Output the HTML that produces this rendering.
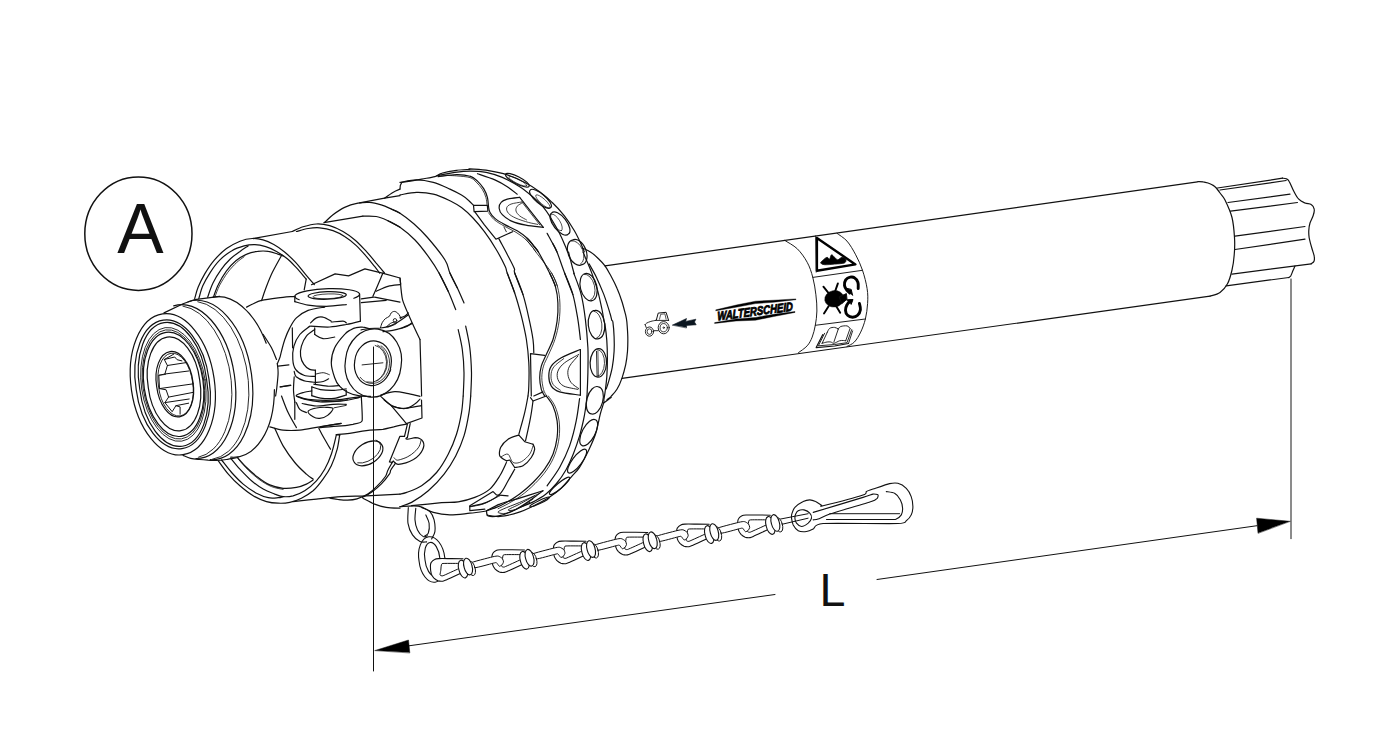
<!DOCTYPE html>
<html lang="en">
<head>
<meta charset="utf-8">
<title>Walterscheid PTO drive shaft - dimension L</title>
<style>
html,body{margin:0;padding:0;background:#fff;}
body{width:1398px;height:740px;overflow:hidden;}
svg{display:block;}
text{font-family:"Liberation Sans",sans-serif;fill:#111;}
</style>
</head>
<body>
<svg width="1398" height="740" viewBox="0 0 1398 740" fill="none" stroke-linecap="round" stroke-linejoin="round">
<rect x="0" y="0" width="1398" height="740" fill="#fff" stroke="none"/>
<path d="M192.0 233.7 A53.6 56.7 0.0 1 1 84.8 233.7 A53.6 56.7 0.0 1 1 192.0 233.7 Z" stroke="#111" stroke-width="1.5" fill="none"/>
<text x="140.4" y="252.7" font-size="69.5" text-anchor="middle" stroke="none">A</text>
<text x="819.6" y="605.7" font-size="46.6" stroke="none">L</text>
<path d="M373.5 347.0 L373.5 671.0" stroke="#111" stroke-width="1" fill="none"/>
<path d="M1291.0 279.0 L1291.0 538.7" stroke="#181818" stroke-width="1" fill="none"/>
<path d="M409.0 645.8 L775.0 594.5" stroke="#111" stroke-width="1.0" fill="none"/>
<path d="M877.0 579.5 L1257.0 525.7" stroke="#111" stroke-width="1.0" fill="none"/>
<path d="M375.0 650.5 L408.5 640.0 L409.8 652.6Z" stroke="#111" stroke-width="0.5" fill="#000"/>
<path d="M1290.0 521.3 L1256.6 518.2 L1258.0 533.0Z" stroke="#111" stroke-width="0.5" fill="#000"/>
<path d="M605.0 265.9 L1197.5 181.8" stroke="#111" stroke-width="1.2" fill="none"/>
<path d="M622.0 378.3 L1210.0 296.2" stroke="#111" stroke-width="1.2" fill="none"/>
<path d="M1197.8 181.6 C1198.7 181.6 1201.5 181.5 1203.2 181.8 C1205.0 182.0 1206.5 182.5 1208.0 183.0 C1209.5 183.5 1211.2 184.2 1212.5 185.0 C1213.8 185.8 1214.5 186.2 1215.8 187.5 C1217.0 188.8 1218.5 190.9 1220.0 193.0 C1221.5 195.1 1223.0 195.9 1225.0 200.0 C1227.0 204.1 1230.4 211.2 1232.0 217.5 C1233.6 223.8 1234.1 231.2 1234.5 237.5 C1234.9 243.8 1234.7 249.6 1234.2 255.0 C1233.8 260.4 1233.1 265.2 1232.0 270.0 C1230.9 274.8 1229.5 280.0 1227.5 283.8 C1225.5 287.5 1222.9 290.4 1220.0 292.5 C1217.1 294.6 1211.7 295.6 1210.0 296.2" stroke="#111" stroke-width="1.2" fill="none"/>
<path d="M1217.5 188.0 L1282.5 178.2" stroke="#111" stroke-width="1.2" fill="none"/>
<path d="M1282.5 178.2 C1283.1 178.3 1285.1 178.2 1286.2 178.8 C1287.4 179.3 1288.0 179.4 1289.2 181.5 C1290.5 183.6 1292.2 188.3 1293.8 191.2 C1295.3 194.2 1296.9 197.3 1298.8 199.2 C1300.6 201.2 1302.9 202.1 1305.0 203.0 C1307.1 203.9 1309.7 203.5 1311.2 204.5 C1312.8 205.5 1313.9 207.4 1314.2 209.2 C1314.6 211.1 1314.0 213.2 1313.2 215.5 C1312.5 217.8 1310.8 220.5 1310.0 223.0 C1309.2 225.5 1308.9 228.0 1308.8 230.5 C1308.6 233.0 1308.8 235.1 1309.2 238.0 C1309.8 240.9 1310.9 245.0 1311.8 248.0 C1312.6 251.0 1313.9 254.0 1314.2 256.2 C1314.6 258.5 1314.5 260.0 1314.0 261.2 C1313.5 262.5 1311.7 263.3 1311.2 263.8" stroke="#111" stroke-width="1.2" fill="none"/>
<path d="M1311.2 263.8 L1232.0 274.2" stroke="#111" stroke-width="1.2" fill="none"/>
<path d="M1220.0 190.0 L1286.2 180.5" stroke="#111" stroke-width="1.2" fill="none"/>
<path d="M1228.0 202.5 L1290.0 194.2" stroke="#111" stroke-width="1.2" fill="none"/>
<path d="M1230.5 211.2 L1297.5 202.5" stroke="#111" stroke-width="1.2" fill="none"/>
<path d="M1235.0 236.2 L1305.0 226.5" stroke="#111" stroke-width="1.2" fill="none"/>
<path d="M1235.0 249.5 L1305.0 239.2" stroke="#111" stroke-width="1.2" fill="none"/>
<path d="M1226.2 285.8 L1288.8 277.5" stroke="#111" stroke-width="1.2" fill="none"/>
<path d="M1288.8 277.5 C1289.1 277.2 1290.0 276.9 1290.8 275.8 C1291.5 274.6 1292.3 272.1 1293.0 270.5 C1293.7 268.9 1294.7 266.8 1295.0 266.0" stroke="#111" stroke-width="1.2" fill="none"/>
<path d="M784.9 240.5 C786.9 241.9 793.6 245.2 797.3 248.8 C801.0 252.5 804.6 257.5 807.2 262.3 C809.8 267.0 811.4 272.0 812.8 277.4 C814.3 282.8 815.2 289.2 815.9 294.8 C816.6 300.4 817.0 305.9 816.9 311.0 C816.8 316.0 816.1 320.9 815.3 325.3 C814.5 329.6 813.5 333.6 812.2 337.1 C810.8 340.5 809.5 343.2 807.2 345.8 C804.9 348.4 800.0 351.5 798.5 352.6" stroke="#111" stroke-width="0.95" fill="none"/>
<path d="M837.1 233.4 C838.7 234.7 843.9 237.6 847.0 241.1 C850.1 244.7 853.1 249.9 855.7 254.8 C858.3 259.7 860.6 264.7 862.5 270.3 C864.4 276.0 866.3 283.1 867.1 288.6 C868.0 294.1 867.9 298.4 867.6 303.5 C867.3 308.6 866.5 314.3 865.4 319.0 C864.2 323.8 862.5 328.3 860.7 332.1 C858.8 335.9 856.7 339.7 854.4 342.0 C852.2 344.4 848.2 345.7 847.0 346.4" stroke="#111" stroke-width="0.95" fill="none"/>
<path d="M812.8 277.4 L862.5 270.3" stroke="#111" stroke-width="0.95" fill="none"/>
<path d="M815.3 325.3 L865.4 319.0" stroke="#111" stroke-width="0.95" fill="none"/>
<path d="M816.9 238.0 L855.4 264.4 L816.9 270.7Z" stroke="#000" stroke-width="2.4" fill="none"/>
<path d="M815.6 235.9 L816.2 272.2" stroke="#111" stroke-width="0.8" fill="none"/>
<path d="M820.9 262.9 C820.7 262.0 822.3 260.7 823.4 259.8 C824.4 258.8 826.1 257.4 827.1 257.3 C828.1 257.2 828.9 259.6 829.6 259.1 C830.3 258.7 830.6 255.1 831.5 254.8 C832.3 254.5 833.5 256.5 834.6 257.3 C835.6 258.1 836.4 259.8 837.7 259.8 C838.9 259.8 840.7 257.4 842.0 257.3 C843.4 257.2 845.3 258.2 845.7 259.1 C846.2 260.1 846.4 262.0 844.5 262.9 C842.6 263.7 837.9 263.8 834.6 264.1 C831.3 264.4 826.9 264.9 824.6 264.7 C822.3 264.5 821.1 263.7 820.9 262.9Z" stroke="#111" stroke-width="0.8" fill="#000"/>
<path d="M843.9 297.1 A9.7 8.2 -10.0 1 1 824.8 300.5 A9.7 8.2 -10.0 1 1 843.9 297.1 Z" stroke="#111" stroke-width="0.5" fill="#000"/>
<path d="M839.5 296.7 L846.4 293.6 L847.0 299.2 L842.0 303.5Z" stroke="#111" stroke-width="1.0" fill="#000"/>
<path d="M823.4 286.7 L828.4 292.9" stroke="#000" stroke-width="1.9" fill="none"/>
<path d="M837.9 283.4 L835.2 291.1" stroke="#000" stroke-width="1.9" fill="none"/>
<path d="M824.0 313.5 L828.6 306.2" stroke="#000" stroke-width="1.9" fill="none"/>
<path d="M840.2 312.8 L836.1 306.0" stroke="#000" stroke-width="1.9" fill="none"/>
<path d="M858.2 288.6 C858.1 287.6 858.6 284.2 857.9 282.4 C857.3 280.6 855.8 278.5 854.4 277.7 C853.1 276.8 851.5 276.8 850.1 277.2 C848.6 277.5 846.7 278.5 845.7 279.9 C844.8 281.3 844.3 283.7 844.5 285.5 C844.7 287.3 846.1 289.2 847.0 290.5 C847.9 291.7 849.3 292.5 849.7 292.9" stroke="#000" stroke-width="2.9" fill="none"/>
<path d="M847.0 288.6 L852.6 295.4 L851.3 289.8Z" stroke="#000" stroke-width="1.0" fill="#000"/>
<path d="M859.4 303.5 C859.6 304.5 860.7 307.8 860.4 309.7 C860.1 311.7 858.9 314.1 857.6 315.3 C856.3 316.6 854.2 317.2 852.6 317.2 C850.9 317.2 848.8 316.5 847.6 315.3 C846.4 314.2 845.6 312.1 845.5 310.3 C845.4 308.6 846.2 306.3 847.0 304.8 C847.8 303.2 849.6 301.6 850.1 301.0" stroke="#000" stroke-width="2.9" fill="none"/>
<path d="M847.0 299.8 L853.0 299.5 L851.3 304.1Z" stroke="#000" stroke-width="1.0" fill="#000"/>
<path d="M827.1 332.7 C827.5 332.0 828.4 329.3 829.6 328.4 C830.8 327.5 833.1 327.3 834.6 327.4 C836.0 327.5 837.7 328.7 838.3 329.0" stroke="#111" stroke-width="0.9" fill="none"/>
<path d="M838.3 329.0 C838.7 328.6 839.3 327.0 840.8 326.5 C842.2 326.0 845.4 325.6 847.0 325.9 C848.5 326.2 849.6 328.0 850.1 328.4" stroke="#111" stroke-width="0.9" fill="none"/>
<path d="M827.1 332.7 L822.1 343.3" stroke="#111" stroke-width="0.9" fill="none"/>
<path d="M838.3 329.0 L833.9 342.0" stroke="#111" stroke-width="0.9" fill="none"/>
<path d="M850.1 328.4 L845.7 340.8" stroke="#111" stroke-width="0.9" fill="none"/>
<path d="M822.1 343.3 C823.0 343.1 825.7 342.2 827.1 342.0 C828.6 341.8 829.7 341.8 830.8 342.0 C832.0 342.2 832.5 343.5 833.9 343.3 C835.4 343.1 838.0 341.3 839.5 340.8 C841.1 340.3 842.2 340.5 843.3 340.5 C844.3 340.5 845.3 340.8 845.7 340.8" stroke="#111" stroke-width="0.9" fill="none"/>
<path d="M824.6 333.3 L818.4 345.8 L834.6 344.5 L847.0 342.7 L851.7 329.6" stroke="#111" stroke-width="0.9" fill="none"/>
<path d="M822.8 334.6 L816.2 347.6 L834.6 346.0 L848.5 343.5" stroke="#111" stroke-width="1.2" fill="none"/>
<path d="M848.5 343.5 L852.6 330.9" stroke="#111" stroke-width="0.9" fill="none"/>
<path d="M669.2 327.7 A5.5 6.1 0.0 1 1 658.2 327.7 A5.5 6.1 0.0 1 1 669.2 327.7 Z" stroke="#111" stroke-width="0.9" fill="none"/>
<path d="M667.4 327.7 A3.6 4.1 0.0 1 1 660.1 327.7 A3.6 4.1 0.0 1 1 667.4 327.7 Z" stroke="#111" stroke-width="0.8" fill="none"/>
<path d="M664.4 327.7 A0.7 0.7 0.0 1 1 663.0 327.7 A0.7 0.7 0.0 1 1 664.4 327.7 Z" stroke="#111" stroke-width="0.8" fill="none"/>
<path d="M653.6 331.6 A4.1 4.6 0.0 1 1 645.4 331.6 A4.1 4.6 0.0 1 1 653.6 331.6 Z" stroke="#111" stroke-width="0.9" fill="none"/>
<path d="M651.9 331.6 A2.4 2.8 0.0 1 1 647.1 331.6 A2.4 2.8 0.0 1 1 651.9 331.6 Z" stroke="#111" stroke-width="0.8" fill="none"/>
<path d="M656.4 319.8 L658.2 313.1 L666.1 312.3 L668.6 320.4" stroke="#111" stroke-width="1.0" fill="none"/>
<path d="M659.5 319.2 L660.7 314.3 L664.9 313.8 L666.1 319.2" stroke="#111" stroke-width="0.7" fill="none"/>
<path d="M655.6 320.4 C654.8 320.6 652.4 320.9 650.9 321.4 C649.5 321.8 647.7 322.5 646.7 323.1 C645.7 323.6 645.4 324.4 645.1 324.7" stroke="#111" stroke-width="0.9" fill="none"/>
<path d="M645.1 324.7 L646.3 327.7" stroke="#111" stroke-width="0.9" fill="none"/>
<path d="M655.6 320.4 L668.6 320.4" stroke="#111" stroke-width="0.9" fill="none"/>
<path d="M654.0 330.7 L658.2 330.7" stroke="#111" stroke-width="0.9" fill="none"/>
<path d="M672.6 325.0 L686.5 318.5 L685.7 321.4 L695.9 319.2 L694.5 322.0 L696.2 324.8 L686.7 325.4 L686.5 327.6Z" stroke="#0b1620" stroke-width="0.6" fill="#0b1620"/>
<path d="M716.0 309.8 L737.3 304.8 L755.5 301.2 L773.8 300.2 L795.9 298.9 L795.9 299.7 L773.8 302.2 L755.5 303.6 L737.3 307.0 L716.0 310.7Z" stroke="#000" stroke-width="0.4" fill="#000"/>
<path d="M714.8 322.6 L736.1 318.9 L755.5 317.4 L773.8 314.3 L795.0 311.5 L795.0 312.4 L773.8 316.5 L755.5 320.2 L736.1 321.0 L714.8 323.4Z" stroke="#000" stroke-width="0.4" fill="#000"/>
<text transform="translate(717.4,320.6) rotate(-7.6) skewX(-6) scale(0.79,1)" font-size="12.2" font-weight="bold" font-style="italic" stroke="#000" stroke-width="0.8" stroke-linejoin="miter" style="fill:#000">WALTERSCHEID</text>
<path d="M401.7 182.4 C405.0 181.9 416.1 180.1 421.6 179.1 C427.2 178.1 431.6 177.6 434.9 176.6 C438.2 175.6 438.0 174.3 441.6 173.3 C445.2 172.2 451.8 170.9 456.5 170.3 C461.2 169.6 467.6 169.5 469.8 169.3 C472.1 169.1 466.9 168.7 470.0 168.9 C473.1 169.2 482.4 169.6 488.6 170.6 C494.9 171.6 501.1 172.8 507.3 174.9 C513.5 177.0 520.5 180.2 525.9 183.0 C531.3 185.8 535.2 188.5 539.6 191.7 C543.9 194.9 547.9 198.2 552.0 202.3 C556.2 206.3 560.7 211.2 564.4 215.9 C568.2 220.7 571.5 225.9 574.4 230.8 C577.3 235.8 580.2 242.2 581.8 245.7 C583.5 249.3 583.9 250.9 584.3 252.0" stroke="#111" stroke-width="1.2" fill="none"/>
<path d="M436.6 175.8 C439.6 175.2 449.3 173.2 454.9 172.4 C460.4 171.7 464.8 171.2 470.0 171.2 C475.2 171.2 480.8 171.4 486.2 172.4 C491.5 173.5 496.7 175.0 502.3 177.4 C507.9 179.8 514.7 183.6 519.7 186.7 C524.7 189.9 528.2 192.9 532.1 196.3 C536.1 199.7 540.1 203.4 543.3 207.2 C546.5 211.0 548.7 214.7 551.4 219.0 C554.1 223.4 557.1 228.7 559.5 233.3 C561.9 238.0 564.3 243.9 565.7 247.0 C567.0 250.1 567.2 251.1 567.6 252.0" stroke="#111" stroke-width="1.2" fill="none"/>
<path d="M477.5 173.7 C480.4 174.7 489.9 177.7 494.9 179.9 C499.8 182.1 503.6 184.3 507.3 186.7 C511.0 189.1 515.6 192.9 517.2 194.2" stroke="#111" stroke-width="1.2" fill="none"/>
<path d="M547.1 233.3 C548.0 235.0 551.0 240.2 552.6 243.3 C554.3 246.4 556.3 250.5 557.0 252.0" stroke="#111" stroke-width="1.2" fill="none"/>
<path d="M438.2 176.6 C441.3 176.3 451.2 174.7 456.5 174.6 C461.8 174.5 466.5 175.1 470.0 176.2 C473.5 177.2 475.2 179.1 477.5 181.1 C479.7 183.2 482.0 185.9 483.7 188.6 C485.3 191.3 486.6 194.2 487.4 197.3 C488.2 200.4 488.2 204.7 488.6 207.2 C489.1 209.7 488.8 210.3 489.9 212.2 C490.9 214.1 492.4 216.3 494.9 218.4 C497.3 220.5 501.1 222.6 504.8 224.6 C508.5 226.7 513.5 228.6 517.2 230.8 C521.0 233.1 524.3 235.6 527.2 238.3 C530.1 241.0 532.8 244.7 534.6 247.0 C536.5 249.3 537.7 251.1 538.4 252.0" stroke="#111" stroke-width="1.2" fill="none"/>
<path d="M441.6 175.3 C444.1 175.4 451.8 175.5 456.5 175.9 C461.3 176.3 466.7 176.6 470.0 177.6 C473.3 178.7 474.2 180.2 476.2 182.1 C478.2 184.0 480.6 186.7 482.2 189.2 C483.8 191.7 485.1 194.6 485.9 197.3 C486.7 200.0 486.9 204.0 487.1 205.4" stroke="#111" stroke-width="0.8" fill="none"/>
<path d="M488.6 212.8 C489.6 214.0 491.6 217.4 494.2 219.7 C496.8 221.9 500.6 224.0 504.2 226.1 C507.8 228.2 512.4 230.1 516.0 232.3 C519.6 234.6 523.1 237.0 525.9 239.5 C528.7 242.1 531.1 245.5 532.8 247.6 C534.4 249.7 535.3 251.2 535.9 252.0" stroke="#111" stroke-width="0.8" fill="none"/>
<path d="M400.0 182.4 C402.8 182.0 411.1 179.9 416.6 179.9 C422.2 179.9 427.7 180.9 433.3 182.4 C438.8 183.9 445.2 187.0 449.9 189.1 C454.6 191.2 458.4 193.2 461.5 195.0 C464.6 196.8 466.4 198.4 468.4 200.2 C470.4 201.9 472.7 204.5 473.5 205.3" stroke="#111" stroke-width="1.2" fill="none"/>
<path d="M473.5 205.3 L487.3 205.3 L487.9 211.1 L474.1 211.6Z" stroke="#111" stroke-width="1.2" fill="none"/>
<path d="M474.7 211.6 L484.4 224.9 L495.9 239.2 L512.6 231.7" stroke="#111" stroke-width="1.2" fill="none"/>
<path d="M498.8 238.6 C500.2 241.3 504.8 249.7 507.4 254.7 C510.0 259.7 513.1 265.4 514.3 268.5 C515.5 271.5 513.3 268.6 514.7 273.0 C516.2 277.4 521.6 291.0 523.0 294.6" stroke="#111" stroke-width="1.2" fill="none"/>
<path d="M504.0 227.1 L506.3 231.7" stroke="#111" stroke-width="0.9" fill="none"/>
<path d="M400.0 194.9 C402.8 194.5 411.1 192.5 416.6 192.4 C422.2 192.3 427.7 192.7 433.3 194.1 C438.8 195.4 445.3 198.5 450.0 200.7 C454.7 203.0 457.7 204.8 461.5 207.6 C465.3 210.5 469.1 213.9 473.0 218.0 C476.8 222.0 480.6 226.6 484.4 231.7 C488.3 236.9 492.5 243.2 495.9 249.0 C499.4 254.7 503.2 262.2 505.1 266.2 C507.0 270.2 505.6 268.5 507.2 273.0 C508.8 277.5 513.5 289.6 514.7 293.0" stroke="#111" stroke-width="1.2" fill="none"/>
<path d="M543.3 227.4 C540.4 227.0 531.3 226.3 525.9 225.2 C520.5 224.2 514.9 222.7 511.0 220.9 C507.1 219.1 504.3 216.8 502.3 214.7 C500.3 212.6 499.4 210.5 499.2 208.5 C499.0 206.4 499.7 203.8 501.1 202.3 C502.4 200.7 504.2 200.0 507.3 199.1 C510.4 198.3 517.6 197.6 519.7 197.3" stroke="#111" stroke-width="1.2" fill="none"/>
<path d="M519.7 197.3 L543.3 227.4" stroke="#111" stroke-width="1.2" fill="none"/>
<path d="M521.9 202.0 L539.8 224.9" stroke="#111" stroke-width="0.8" fill="none"/>
<path d="M537.7 224.4 C536.2 224.0 532.0 223.4 528.4 222.4 C524.8 221.4 519.3 219.7 516.0 218.2 C512.7 216.7 510.1 215.2 508.5 213.4 C507.0 211.7 506.2 209.4 506.7 207.8 C507.1 206.3 508.5 205.1 511.0 204.1 C513.5 203.1 519.8 202.4 521.6 202.0" stroke="#111" stroke-width="0.8" fill="none"/>
<path d="M522.2 202.9 C521.4 203.4 518.3 204.9 517.2 206.2 C516.2 207.6 515.6 209.3 516.0 211.0 C516.4 212.6 517.9 214.4 519.7 215.9 C521.5 217.4 525.4 219.2 526.5 219.9" stroke="#111" stroke-width="0.8" fill="none"/>
<path d="M529.1 186.2 A13.2 3.6 27.0 1 1 505.5 174.2 A13.2 3.6 27.0 1 1 529.1 186.2 Z" stroke="#111" stroke-width="1.2" fill="none"/>
<path d="M526.7 185.8 A10.0 2.0 27.0 1 1 508.9 176.8 A10.0 2.0 27.0 1 1 526.7 185.8 Z" stroke="#111" stroke-width="0.7" fill="none"/>
<path d="M550.8 207.5 A13.5 4.6 40.0 1 1 530.2 190.1 A13.5 4.6 40.0 1 1 550.8 207.5 Z" stroke="#111" stroke-width="1.2" fill="none"/>
<path d="M550.1 207.9 A9.5 2.6 42.0 1 1 535.9 195.1 A9.5 2.6 42.0 1 1 550.1 207.9 Z" stroke="#111" stroke-width="0.7" fill="none"/>
<path d="M568.3 234.1 A13.5 6.2 52.0 1 1 551.7 212.9 A13.5 6.2 52.0 1 1 568.3 234.1 Z" stroke="#111" stroke-width="1.2" fill="none"/>
<path d="M561.5 230.6 A9.5 3.6 58.0 1 1 551.5 214.4 A9.5 3.6 58.0 1 1 561.5 230.6 Z" stroke="#111" stroke-width="0.7" fill="none"/>
<path d="M253.2 238.6 L292.3 231.5" stroke="#111" stroke-width="1.2" fill="none"/>
<path d="M323.9 222.7 L362.9 216.2" stroke="#111" stroke-width="1.2" fill="none"/>
<path d="M362.9 216.2 C365.1 216.2 372.1 215.8 376.2 216.5 C380.4 217.2 383.9 218.9 387.9 220.7 C391.8 222.5 398.0 226.2 400.0 227.3" stroke="#111" stroke-width="1.2" fill="none"/>
<path d="M324.7 222.3 C326.1 221.1 329.7 217.3 333.0 214.8 C336.3 212.3 340.5 209.3 344.6 207.4 C348.8 205.4 353.8 204.0 357.9 203.2 C362.1 202.4 365.7 202.1 369.6 202.4 C373.5 202.6 377.6 203.8 381.2 204.9 C384.8 206.0 388.1 207.6 391.2 209.0 C394.3 210.4 398.5 212.5 400.0 213.2" stroke="#111" stroke-width="1.2" fill="none"/>
<path d="M359.6 202.9 L384.5 198.2 L400.0 195.7" stroke="#111" stroke-width="1.2" fill="none"/>
<path d="M384.5 198.2 C385.9 197.2 390.3 193.9 392.9 192.4 C395.4 190.9 398.8 189.6 400.0 189.1" stroke="#111" stroke-width="1.2" fill="none"/>
<path d="M292.3 231.5 C294.1 230.7 299.1 228.1 303.1 226.8 C307.1 225.6 311.9 224.2 316.4 224.0 C320.8 223.8 325.2 224.4 329.7 225.6 C334.1 226.9 338.8 229.1 343.0 231.5 C347.1 233.8 350.7 236.5 354.6 239.8 C358.5 243.1 362.6 247.5 366.3 251.4 C369.9 255.3 373.2 259.4 376.2 263.1 C379.3 266.7 383.2 271.4 384.5 273.0" stroke="#111" stroke-width="1.2" fill="none"/>
<path d="M296.4 231.5 C298.4 231.0 304.2 229.1 308.1 228.5 C311.9 227.9 315.5 227.4 319.7 227.8 C323.9 228.2 328.8 229.2 333.0 230.6 C337.2 232.1 340.8 234.0 344.6 236.5 C348.5 238.9 352.7 242.3 356.3 245.6 C359.9 248.9 363.2 252.9 366.3 256.4 C369.3 259.9 372.3 263.6 374.6 266.4 C376.8 269.1 378.7 271.9 379.6 273.0" stroke="#111" stroke-width="1.2" fill="none"/>
<path d="M214.1 378.3 A41.7 71.1 -8.3 1 1 131.5 390.3 A41.7 71.1 -8.3 1 1 214.1 378.3 Z" stroke="#111" stroke-width="1.2" fill="none"/>
<path d="M209.0 379.1 A36.8 63.0 -8.3 1 1 136.2 389.7 A36.8 63.0 -8.3 1 1 209.0 379.1 Z" stroke="#111" stroke-width="1.2" fill="none"/>
<path d="M206.6 379.5 A33.8 59.5 -8.3 1 1 139.8 389.3 A33.8 59.5 -8.3 1 1 206.6 379.5 Z" stroke="#111" stroke-width="1.2" fill="none"/>
<path d="M205.1 379.8 A32.0 57.3 -8.3 1 1 141.7 389.0 A32.0 57.3 -8.3 1 1 205.1 379.8 Z" stroke="#111" stroke-width="0.9" fill="none"/>
<path d="M203.8 380.0 A30.6 55.0 -8.3 1 1 143.2 388.8 A30.6 55.0 -8.3 1 1 203.8 380.0 Z" stroke="#111" stroke-width="0.9" fill="none"/>
<path d="M202.9 380.0 A29.6 52.5 -8.3 1 1 144.3 388.6 A29.6 52.5 -8.3 1 1 202.9 380.0 Z" stroke="#111" stroke-width="1.2" fill="none"/>
<path d="M199.7 380.1 A26.0 45.5 -8.3 1 1 148.3 387.7 A26.0 45.5 -8.3 1 1 199.7 380.1 Z" stroke="#111" stroke-width="1.2" fill="none"/>
<path d="M192.9 381.6 A18.3 31.7 -8.3 1 1 156.7 386.8 A18.3 31.7 -8.3 1 1 192.9 381.6 Z" stroke="#111" stroke-width="1.2" fill="none"/>
<path d="M173.7 305.9 A45.5 77.5 -8.3 1 1 195.9 458.5" stroke="#111" stroke-width="1.2" fill="none"/>
<path d="M182.9 306.1 A45.0 76.5 -8.3 0 1 198.6 457.2" stroke="#111" stroke-width="0.9" fill="none"/>
<path d="M188.1 301.7 A47.3 80.3 -8.3 1 1 210.3 459.7" stroke="#111" stroke-width="1.2" fill="none"/>
<path d="M197.8 301.7 A47.0 79.6 -8.3 0 1 212.5 459.2" stroke="#111" stroke-width="0.9" fill="none"/>
<path d="M211.7 297.5 A47.7 80.8 -8.3 0 1 266.2 343.2" stroke="#111" stroke-width="1.2" fill="none"/>
<path d="M274.4 389.7 A47.7 80.8 -8.3 0 1 230.8 457.1" stroke="#111" stroke-width="1.2" fill="none"/>
<path d="M164.0 312.9 L183.1 303.8 L194.8 299.6 L219.7 296.3" stroke="#111" stroke-width="1.2" fill="none"/>
<path d="M183.1 455.4 C184.4 455.9 187.8 457.7 190.6 458.3 C193.4 459.0 196.8 459.2 199.8 459.5 C202.7 459.8 205.3 460.0 208.1 460.2 C210.8 460.3 213.3 460.6 216.4 460.5 C219.4 460.4 222.7 460.0 226.4 459.5 C230.0 459.0 236.0 457.8 238.0 457.5" stroke="#111" stroke-width="1.2" fill="none"/>
<path d="M192.6 382.1 A17.2 30.3 -8.3 1 1 158.6 387.1 A17.2 30.3 -8.3 1 1 192.6 382.1 Z" stroke="#111" stroke-width="0.9" fill="none"/>
<path d="M174.0 354.0 L164.3 359.5 L167.4 365.5 L164.9 374.0 L158.8 375.3 L159.5 388.6 L166.1 389.8 L168.6 397.1 L164.9 402.6 L172.2 411.7 L175.9 405.7 L180.1 406.9 L180.1 414.2" stroke="#111" stroke-width="1.0" fill="none"/>
<path d="M167.4 365.5 L186.8 362.5" stroke="#111" stroke-width="1.0" fill="none"/>
<path d="M164.9 374.0 L188.6 371.0" stroke="#111" stroke-width="1.0" fill="none"/>
<path d="M159.5 388.6 L193.5 383.8" stroke="#111" stroke-width="1.0" fill="none"/>
<path d="M168.6 397.1 L193.5 392.3" stroke="#111" stroke-width="1.0" fill="none"/>
<path d="M164.9 402.6 L189.2 399.0" stroke="#111" stroke-width="1.0" fill="none"/>
<path d="M175.9 405.7 L188.6 403.2" stroke="#111" stroke-width="1.0" fill="none"/>
<path d="M164.3 359.5 L174.7 357.0 L177.1 359.7 L181.9 360.9" stroke="#111" stroke-width="1.0" fill="none"/>
<path d="M158.8 375.3 L165.5 374.4" stroke="#111" stroke-width="0.8" fill="none"/>
<path d="M246.6 307.1 C247.7 306.5 250.7 304.9 253.2 303.8 C255.7 302.6 257.4 301.4 261.5 300.4 C265.7 299.5 272.6 298.6 278.1 297.9 C283.7 297.2 292.0 296.6 294.8 296.3" stroke="#111" stroke-width="1.2" fill="none"/>
<path d="M263.2 334.5 C264.6 336.7 269.3 343.7 271.5 347.8 C273.7 352.0 275.6 357.5 276.5 359.5" stroke="#111" stroke-width="1.2" fill="none"/>
<path d="M299.2 299.7 A32.4 6.7 -2.0 1 1 353.9 298.3" stroke="#111" stroke-width="1.2" fill="none"/>
<path d="M346.3 294.8 A19.1 3.8 -2.0 1 1 308.1 296.1 A19.1 3.8 -2.0 1 1 346.3 294.8 Z" stroke="#111" stroke-width="1.2" fill="none"/>
<path d="M343.0 295.8 A15.0 2.2 -2.0 1 1 313.1 296.8 A15.0 2.2 -2.0 1 1 343.0 295.8 Z" stroke="#111" stroke-width="0.8" fill="none"/>
<path d="M294.8 296.3 L294.8 301.6" stroke="#111" stroke-width="1.2" fill="none"/>
<path d="M294.8 301.6 C297.0 302.2 302.8 304.3 308.1 305.1 C313.3 305.9 320.0 306.3 326.4 306.3 C332.7 306.2 343.0 304.9 346.3 304.6" stroke="#111" stroke-width="1.2" fill="none"/>
<path d="M359.6 293.8 L360.4 321.2" stroke="#111" stroke-width="1.2" fill="none"/>
<path d="M360.4 321.2 C358.1 321.8 351.4 323.6 346.3 324.5 C341.2 325.5 335.6 326.8 329.7 327.0 C323.7 327.3 313.7 326.3 310.6 326.2" stroke="#111" stroke-width="1.2" fill="none"/>
<path d="M324.7 307.1 C321.9 307.6 312.8 308.6 308.1 310.4 C303.4 312.2 299.5 315.0 296.4 317.9 C293.4 320.8 291.7 324.3 289.8 327.9 C287.8 331.5 286.2 335.6 284.8 339.5 C283.4 343.4 282.3 348.1 281.5 351.1 C280.6 354.2 280.5 355.7 279.8 357.8 C279.1 359.9 277.7 362.6 277.3 363.6" stroke="#111" stroke-width="1.2" fill="none"/>
<path d="M292.3 327.9 L292.6 347.8" stroke="#111" stroke-width="1.2" fill="none"/>
<path d="M309.7 326.2 C308.1 327.6 302.4 331.2 299.8 334.5 C297.1 337.8 295.1 342.0 293.9 346.2 C292.8 350.3 292.5 355.6 292.8 359.5 C293.0 363.3 293.7 366.8 295.6 369.4 C297.5 372.1 300.7 374.1 303.9 375.2 C307.1 376.4 312.9 376.2 314.7 376.4" stroke="#111" stroke-width="1.2" fill="none"/>
<path d="M314.7 329.5 C313.3 330.6 308.6 333.4 306.4 336.2 C304.2 338.9 302.4 342.8 301.4 346.2 C300.4 349.5 300.2 353.1 300.6 356.1 C301.0 359.2 302.4 362.2 303.9 364.4 C305.4 366.7 307.8 368.5 309.7 369.4 C311.7 370.4 314.6 370.1 315.5 370.3" stroke="#111" stroke-width="1.2" fill="none"/>
<path d="M314.7 327.9 L314.7 334.5" stroke="#111" stroke-width="1.2" fill="none"/>
<path d="M314.7 334.5 C316.1 335.2 319.7 338.3 323.0 338.7 C326.4 339.1 332.7 337.3 334.7 337.0" stroke="#111" stroke-width="1.2" fill="none"/>
<path d="M310.6 322.9 C311.5 322.0 314.3 318.9 316.4 317.9 C318.5 316.9 320.5 316.5 323.0 317.1 C325.5 317.6 330.0 320.5 331.3 321.2" stroke="#111" stroke-width="1.2" fill="none"/>
<path d="M331.3 322.0 C333.3 321.9 340.5 321.1 343.0 321.2 C345.5 321.4 345.7 322.6 346.3 322.9" stroke="#111" stroke-width="1.2" fill="none"/>
<path d="M278.1 366.1 L288.9 364.8" stroke="#111" stroke-width="1.2" fill="none"/>
<path d="M280.6 386.9 L290.6 385.2" stroke="#111" stroke-width="1.2" fill="none"/>
<path d="M277.3 363.6 C277.4 365.1 278.2 368.7 278.1 372.8 C278.1 376.8 277.2 383.8 276.8 387.7 C276.4 391.6 275.8 394.6 275.6 396.0" stroke="#111" stroke-width="1.2" fill="none"/>
<path d="M391.0 365.8 A18.3 21.3 8.0 1 1 354.8 360.7 A18.3 21.3 8.0 1 1 391.0 365.8 Z" stroke="#111" stroke-width="1.2" fill="none"/>
<path d="M381.1 345.8 A16.6 20.0 8.0 1 1 360.2 377.3" stroke="#111" stroke-width="0.8" fill="none"/>
<path d="M377.6 345.2 A16.0 19.3 8.0 0 1 366.8 382.0" stroke="#111" stroke-width="0.8" fill="none"/>
<path d="M375.2 345.4 A15.3 18.8 8.0 0 1 376.5 380.9" stroke="#111" stroke-width="0.8" fill="none"/>
<path d="M362.1 364.9 L382.9 362.8" stroke="#111" stroke-width="0.9" fill="none"/>
<path d="M382.9 273.0 C382.2 274.7 380.4 279.1 378.7 283.0 C377.1 286.9 373.9 294.1 372.9 296.3" stroke="#111" stroke-width="1.2" fill="none"/>
<path d="M374.6 297.1 L400.0 302.1" stroke="#111" stroke-width="1.2" fill="none"/>
<path d="M376.2 291.3 C378.2 290.5 383.9 287.4 387.9 286.3 C391.8 285.2 398.0 284.9 400.0 284.6" stroke="#111" stroke-width="1.2" fill="none"/>
<path d="M361.3 298.8 L373.7 297.1" stroke="#111" stroke-width="1.2" fill="none"/>
<path d="M361.3 302.6 L386.2 300.4" stroke="#111" stroke-width="1.2" fill="none"/>
<path d="M311.5 284.7 L335.1 273.9 L348.6 275.9 L364.9 268.9 L382.4 273.2 L400.0 278.0 L400.7 284.1" stroke="#111" stroke-width="1.2" fill="none"/>
<path d="M218.3 460.8 C220.0 463.1 224.7 470.0 228.3 474.1 C231.9 478.3 235.7 482.2 239.9 485.8 C244.1 489.4 248.8 493.1 253.2 495.8 C257.6 498.4 262.3 500.3 266.5 501.6 C270.7 502.8 274.3 503.1 278.1 503.2 C282.0 503.4 285.9 503.2 289.8 502.4 C293.7 501.6 297.5 500.2 301.4 498.2 C305.3 496.3 309.4 493.9 313.1 490.8 C316.7 487.6 320.0 483.3 323.0 479.1 C326.1 475.0 329.0 470.8 331.3 465.8 C333.7 460.8 335.8 454.3 337.2 449.2 C338.5 444.1 339.2 437.4 339.7 435.1" stroke="#111" stroke-width="1.2" fill="none"/>
<path d="M221.6 460.0 C223.3 462.1 228.0 468.5 231.6 472.5 C235.2 476.5 239.1 480.6 243.2 484.1 C247.4 487.6 252.4 491.0 256.5 493.3 C260.7 495.5 264.6 497.0 268.2 497.7 C271.8 498.5 275.6 497.9 278.1 497.7 C280.6 497.6 282.3 496.8 283.1 496.6" stroke="#111" stroke-width="1.2" fill="none"/>
<path d="M230.8 458.3 C232.3 460.1 236.4 465.4 239.9 469.2 C243.4 472.9 247.7 477.5 251.5 480.8 C255.4 484.1 259.3 486.9 263.2 489.1 C267.1 491.3 271.5 492.8 274.8 494.1 C278.1 495.3 280.1 496.3 283.1 496.6 C286.2 496.9 289.5 496.7 293.1 495.8 C296.7 494.8 300.9 493.3 304.7 490.8 C308.6 488.3 313.1 484.4 316.4 480.8 C319.7 477.2 322.2 473.6 324.7 469.2 C327.2 464.7 329.4 459.9 331.3 454.2 C333.3 448.5 335.5 438.3 336.3 435.1" stroke="#111" stroke-width="1.2" fill="none"/>
<path d="M237.4 457.5 C238.9 459.2 243.1 464.2 246.6 467.5 C250.0 470.8 254.3 474.6 258.2 477.5 C262.1 480.4 265.7 483.1 269.8 484.9 C274.0 486.7 278.7 487.9 283.1 488.3 C287.6 488.7 292.5 488.1 296.4 487.4 C300.3 486.7 303.6 485.4 306.4 484.1 C309.2 482.9 311.9 480.6 313.1 480.0" stroke="#111" stroke-width="1.2" fill="none"/>
<path d="M238.6 459.5 C240.2 461.3 244.7 466.6 248.2 470.0 C251.8 473.4 256.0 477.2 259.9 480.0 C263.7 482.7 267.6 485.0 271.5 486.6 C275.4 488.2 281.2 489.0 283.1 489.4" stroke="#111" stroke-width="0.8" fill="none"/>
<path d="M274.8 428.4 C276.2 431.3 279.8 440.2 283.1 445.9 C286.5 451.6 290.9 457.8 294.8 462.5 C298.6 467.2 303.4 471.4 306.4 474.1 C309.4 476.9 311.9 478.3 313.1 479.1" stroke="#111" stroke-width="1.2" fill="none"/>
<path d="M318.9 428.4 C319.8 430.2 322.7 435.8 324.7 439.2 C326.6 442.7 329.5 447.5 330.5 449.2" stroke="#111" stroke-width="1.2" fill="none"/>
<path d="M281.5 396.0 C282.6 398.8 285.6 407.4 288.1 412.6 C290.6 417.9 295.0 425.1 296.4 427.6" stroke="#111" stroke-width="1.2" fill="none"/>
<path d="M269.8 426.8 C272.0 427.3 278.1 429.5 283.1 430.1 C288.1 430.6 293.7 430.6 299.8 430.1 C305.8 429.5 312.8 427.9 319.7 426.8 C326.6 425.6 337.7 424.0 341.3 423.4" stroke="#111" stroke-width="1.2" fill="none"/>
<path d="M336.3 434.6 C338.5 434.4 344.6 434.1 349.6 433.4 C354.6 432.7 360.7 431.3 366.3 430.6 C371.8 429.9 378.3 429.9 382.9 429.3 C387.4 428.6 389.8 427.6 393.7 426.8 C397.6 425.9 404.2 424.5 406.4 424.1" stroke="#111" stroke-width="1.2" fill="none"/>
<path d="M336.3 434.6 L339.7 435.1" stroke="#111" stroke-width="1.2" fill="none"/>
<path d="M294.8 401.8 L294.8 419.3" stroke="#111" stroke-width="1.2" fill="none"/>
<path d="M296.4 402.7 C297.0 403.8 298.1 407.6 299.8 409.3 C301.4 411.0 305.3 412.1 306.4 412.6" stroke="#111" stroke-width="1.2" fill="none"/>
<path d="M302.2 403.5 C304.6 403.9 311.2 405.8 316.4 406.0 C321.5 406.1 328.0 404.6 333.0 404.3 C338.0 404.0 344.1 404.3 346.3 404.3" stroke="#111" stroke-width="1.2" fill="none"/>
<path d="M308.1 411.3 C308.6 409.8 313.3 408.6 316.4 408.0 C319.4 407.3 323.6 407.2 326.4 407.3 C329.1 407.4 332.7 407.2 333.0 408.5 C333.3 409.8 330.2 413.5 328.0 415.1 C325.8 416.8 322.2 418.2 319.7 418.4 C317.2 418.7 315.0 418.0 313.1 416.8 C311.1 415.6 307.5 412.8 308.1 411.3Z" stroke="#111" stroke-width="1.2" fill="none"/>
<path d="M361.3 396.0 C361.3 398.1 362.8 418.6 362.1 420.9 C361.4 423.3 354.7 423.8 353.0 424.3 C351.2 424.7 344.1 425.6 341.3 425.9 C338.5 426.2 321.5 427.4 319.7 427.6" stroke="#111" stroke-width="1.2" fill="none"/>
<path d="M296.4 396.0 C298.4 396.6 302.0 398.6 308.1 399.3 C314.2 400.0 324.4 400.6 333.0 400.2 C341.6 399.7 355.2 397.4 359.6 396.8" stroke="#111" stroke-width="1.2" fill="none"/>
<path d="M381.7 444.7 A16.3 10.0 -32.0 1 1 354.1 462.0 A16.3 10.0 -32.0 1 1 381.7 444.7 Z" stroke="#111" stroke-width="1.2" fill="none"/>
<path d="M376.1 440.1 A16.0 9.6 -32.0 0 1 357.7 462.9" stroke="#111" stroke-width="0.9" fill="none"/>
<path d="M293.1 501.6 C297.0 501.2 308.3 499.9 316.4 499.1 C324.4 498.2 333.0 497.1 341.3 496.6 C349.6 496.0 356.5 496.2 366.3 495.8 C376.0 495.3 394.4 494.4 400.0 494.1" stroke="#111" stroke-width="1.2" fill="none"/>
<path d="M362.9 498.2 C364.9 499.2 370.7 502.5 374.6 504.1 C378.4 505.6 382.0 506.7 386.2 507.4 C390.4 508.1 397.7 508.1 400.0 508.2" stroke="#111" stroke-width="1.2" fill="none"/>
<path d="M400.0 278.0 C400.3 280.5 401.3 294.9 402.5 299.6 C403.7 304.3 407.9 313.2 410.0 317.9 C412.0 322.5 418.8 337.0 420.0 339.5" stroke="#111" stroke-width="1.2" fill="none"/>
<path d="M420.0 339.5 C420.1 343.9 420.5 356.7 420.8 366.1 C421.1 375.5 421.5 391.0 421.6 396.0" stroke="#111" stroke-width="1.2" fill="none"/>
<path d="M400.0 317.9 C400.8 317.6 403.6 316.7 405.0 315.9 C406.4 315.1 407.8 313.4 408.3 312.9" stroke="#111" stroke-width="1.2" fill="none"/>
<path d="M400.0 328.7 C401.1 328.3 404.7 327.5 406.7 326.5 C408.6 325.6 410.8 323.5 411.6 322.9" stroke="#111" stroke-width="1.2" fill="none"/>
<path d="M439.1 273.0 C440.6 276.0 445.4 285.2 448.2 291.3 C451.0 297.4 454.4 306.5 455.7 309.6" stroke="#111" stroke-width="1.2" fill="none"/>
<path d="M458.2 329.5 C458.9 332.9 461.4 342.3 462.3 349.5 C463.3 356.7 463.9 365.0 464.0 372.8 C464.1 380.5 463.3 392.1 463.2 396.0" stroke="#111" stroke-width="1.2" fill="none"/>
<path d="M449.9 273.0 C451.1 275.5 455.0 283.0 457.4 288.0 C459.7 293.0 462.9 300.4 464.0 302.9" stroke="#111" stroke-width="1.2" fill="none"/>
<path d="M465.7 326.2 C466.4 329.8 468.9 340.1 469.8 347.8 C470.8 355.6 471.3 364.7 471.5 372.8 C471.6 380.8 470.8 392.1 470.7 396.0" stroke="#111" stroke-width="1.2" fill="none"/>
<path d="M507.2 273.0 C508.5 276.3 512.4 285.7 514.7 293.0 C517.1 300.2 519.4 308.5 521.4 316.2 C523.3 324.0 525.1 331.7 526.4 339.5 C527.6 347.3 528.4 355.0 528.8 362.8 C529.3 370.5 529.0 380.5 528.8 386.1 C528.7 391.6 528.2 394.4 528.0 396.0" stroke="#111" stroke-width="1.2" fill="none"/>
<path d="M514.7 273.0 C516.1 276.6 520.7 287.1 523.0 294.6 C525.4 302.1 527.2 310.4 528.8 317.9 C530.5 325.4 532.2 333.7 533.0 339.5 C533.8 345.3 533.7 350.6 533.8 352.8" stroke="#111" stroke-width="1.2" fill="none"/>
<path d="M531.3 396.0 L530.5 353.6 L544.6 355.3" stroke="#111" stroke-width="1.2" fill="none"/>
<path d="M533.8 396.0 L543.0 391.9" stroke="#111" stroke-width="1.2" fill="none"/>
<path d="M549.6 273.0 C550.6 275.2 554.1 281.3 555.4 286.3 C556.8 291.3 557.7 297.1 557.9 302.9 C558.2 308.7 557.9 315.1 557.1 321.2 C556.3 327.3 554.8 334.0 553.0 339.5 C551.1 345.0 548.2 350.0 546.3 354.5 C544.4 358.9 542.4 362.2 541.3 366.1 C540.2 370.0 539.7 373.9 539.7 377.7 C539.7 381.6 540.5 386.3 541.3 389.4 C542.1 392.4 544.1 394.9 544.6 396.0" stroke="#111" stroke-width="1.2" fill="none"/>
<path d="M551.6 273.0 C552.6 275.2 556.1 281.3 557.4 286.3 C558.8 291.3 559.7 297.1 559.9 302.9 C560.2 308.7 559.9 315.1 559.1 321.2 C558.3 327.3 556.7 333.8 554.9 339.5 C553.1 345.2 550.2 350.9 548.3 355.3 C546.4 359.7 544.6 362.4 543.5 366.1 C542.4 369.8 541.8 373.9 541.8 377.7 C541.8 381.6 542.7 386.3 543.5 389.4 C544.3 392.4 546.1 394.9 546.6 396.0" stroke="#111" stroke-width="0.8" fill="none"/>
<path d="M564.6 273.0 C566.0 276.6 570.7 286.9 572.9 294.6 C575.1 302.4 576.6 312.1 577.9 319.6 C579.1 327.0 580.0 336.2 580.4 339.5" stroke="#111" stroke-width="1.2" fill="none"/>
<path d="M580.4 349.5 C577.2 350.9 566.1 355.0 561.3 357.8 C556.4 360.6 553.4 363.1 551.3 366.1 C549.2 369.1 548.8 372.8 548.8 376.1 C548.8 379.4 549.5 383.4 551.3 386.1 C553.1 388.7 554.8 390.3 559.6 391.9 C564.4 393.4 576.9 394.6 580.4 395.2" stroke="#111" stroke-width="1.2" fill="none"/>
<path d="M580.4 349.5 L580.4 395.2" stroke="#111" stroke-width="1.2" fill="none"/>
<path d="M578.7 354.5 C576.4 355.8 568.1 360.0 564.6 362.8 C561.1 365.5 559.0 368.3 557.9 371.1 C556.8 373.9 557.0 376.9 557.9 379.4 C558.9 381.9 560.4 384.4 563.8 386.1 C567.1 387.7 575.5 388.8 577.9 389.4" stroke="#111" stroke-width="0.9" fill="none"/>
<path d="M577.9 356.1 C576.5 357.8 571.2 363.1 569.6 366.1 C567.9 369.1 567.6 371.6 567.9 374.4 C568.2 377.2 569.4 380.4 571.2 382.7 C573.0 385.1 577.5 387.6 578.7 388.5" stroke="#111" stroke-width="0.9" fill="none"/>
<path d="M563.8 358.6 C562.1 360.0 555.9 364.0 553.8 366.9 C551.6 369.8 551.0 373.1 551.0 376.1 C550.9 379.0 551.7 382.4 553.3 384.7 C554.9 387.1 559.2 389.3 560.4 390.2" stroke="#111" stroke-width="0.8" fill="none"/>
<path d="M573.7 273.0 C575.0 276.6 579.3 286.9 581.2 294.6 C583.2 302.4 584.3 310.7 585.4 319.6 C586.5 328.4 587.4 338.9 587.9 347.8 C588.3 356.7 588.0 364.7 587.9 372.8 C587.7 380.8 587.2 392.1 587.0 396.0" stroke="#111" stroke-width="1.2" fill="none"/>
<path d="M463.2 396.0 C462.9 398.8 462.6 406.3 461.5 412.6 C460.4 419.0 458.7 427.3 456.5 434.2 C454.3 441.2 451.5 447.8 448.2 454.2 C444.9 460.6 441.0 467.2 436.6 472.5 C432.1 477.7 426.6 482.5 421.6 485.8 C416.6 489.1 410.3 491.0 406.7 492.4 C403.0 493.8 401.1 493.8 400.0 494.1" stroke="#111" stroke-width="1.2" fill="none"/>
<path d="M470.7 396.0 C470.4 398.8 470.1 406.0 469.0 412.6 C467.9 419.3 466.2 428.7 464.0 435.9 C461.8 443.1 459.0 449.5 455.7 455.9 C452.4 462.2 448.6 468.3 444.1 474.1 C439.5 480.0 433.7 486.1 428.3 490.8 C422.9 495.5 416.3 499.8 411.6 502.4 C406.9 505.0 401.9 505.9 400.0 506.6" stroke="#111" stroke-width="1.2" fill="none"/>
<path d="M411.6 505.7 C416.6 505.2 433.8 503.4 441.6 502.7 C449.3 502.1 452.6 502.8 458.2 501.9 C463.7 501.0 469.5 499.5 474.8 497.4 C480.1 495.3 485.6 492.7 489.8 489.1 C493.9 485.5 497.0 480.2 499.8 475.8 C502.5 471.4 505.3 464.7 506.4 462.5" stroke="#111" stroke-width="1.2" fill="none"/>
<path d="M469.8 506.6 C472.6 505.9 481.5 504.5 486.5 502.4 C491.4 500.3 496.1 497.7 499.8 494.1 C503.4 490.5 505.6 484.9 508.1 480.8 C510.6 476.6 513.6 471.1 514.7 469.2" stroke="#111" stroke-width="1.2" fill="none"/>
<path d="M528.0 396.0 C527.5 398.8 526.2 406.3 524.7 412.6 C523.2 419.0 519.8 430.6 518.9 434.2" stroke="#111" stroke-width="1.2" fill="none"/>
<path d="M533.0 401.0 C532.6 403.8 531.8 411.0 530.5 417.6 C529.3 424.3 526.4 437.0 525.5 440.9" stroke="#111" stroke-width="1.2" fill="none"/>
<path d="M518.9 435.1 C517.4 435.6 510.5 437.6 508.1 439.2 C505.6 440.9 501.7 445.3 500.6 447.5 C499.5 449.8 499.0 454.1 499.8 455.9 C500.5 457.6 505.5 460.2 506.4 460.8" stroke="#111" stroke-width="1.2" fill="none"/>
<path d="M506.4 460.8 L509.7 460.0 L514.7 467.5" stroke="#111" stroke-width="1.2" fill="none"/>
<path d="M514.7 467.5 C515.8 467.3 520.8 467.2 523.0 465.8 C525.2 464.5 529.8 459.7 531.3 457.5 C532.9 455.3 534.4 451.0 534.7 449.2 C534.9 447.4 533.2 444.9 533.0 444.2" stroke="#111" stroke-width="1.2" fill="none"/>
<path d="M533.0 444.2 L524.7 441.7 L518.9 435.1" stroke="#111" stroke-width="1.2" fill="none"/>
<path d="M501.4 456.7 C502.5 456.3 506.1 453.2 508.1 454.2 C510.0 455.2 510.8 461.3 513.1 462.5 C515.3 463.7 518.6 463.1 521.4 461.7 C524.1 460.3 527.7 456.8 529.7 454.2 C531.6 451.6 532.4 447.3 533.0 445.9" stroke="#111" stroke-width="0.8" fill="none"/>
<path d="M530.5 397.7 L533.0 401.0 L546.3 396.0" stroke="#111" stroke-width="1.2" fill="none"/>
<path d="M546.3 396.0 C547.4 397.7 551.1 401.8 553.0 406.0 C554.8 410.1 556.4 415.7 557.1 420.9 C557.8 426.2 557.8 432.0 557.1 437.6 C556.4 443.1 555.0 448.9 553.0 454.2 C550.9 459.5 548.0 464.4 544.6 469.2 C541.3 473.9 537.2 478.3 533.0 482.5 C528.8 486.6 524.1 490.8 519.7 494.1 C515.3 497.4 510.3 500.2 506.4 502.4 C502.5 504.6 499.8 506.0 496.4 507.4 C493.1 508.8 488.1 510.2 486.5 510.7" stroke="#111" stroke-width="1.2" fill="none"/>
<path d="M548.3 396.0 C549.4 397.7 553.1 401.8 554.9 406.0 C556.7 410.1 558.4 415.7 559.1 420.9 C559.8 426.2 559.8 432.0 559.1 437.6 C558.4 443.2 557.0 449.1 554.9 454.5 C552.9 459.9 550.0 465.1 546.6 470.0 C543.3 474.8 539.2 479.4 535.0 483.6 C530.8 487.9 525.9 492.1 521.4 495.4 C516.9 498.8 511.9 501.5 508.1 503.7 C504.2 505.9 499.8 507.9 498.1 508.7" stroke="#111" stroke-width="0.8" fill="none"/>
<path d="M484.8 509.1 L469.8 510.7 L469.8 505.7 L493.1 491.6 L496.4 494.9 L508.1 495.8" stroke="#111" stroke-width="1.2" fill="none"/>
<path d="M471.5 506.6 C473.4 506.1 479.5 505.3 483.1 504.1 C486.7 502.8 490.3 500.5 493.1 499.1 C495.9 497.7 498.6 496.3 499.8 495.8" stroke="#111" stroke-width="0.8" fill="none"/>
<path d="M486.5 510.7 C488.2 509.8 495.8 505.6 499.8 504.1 C503.7 502.5 510.6 500.8 516.4 499.1 C522.1 497.3 539.4 491.9 543.0 490.8" stroke="#111" stroke-width="1.2" fill="none"/>
<path d="M543.0 490.8 C541.6 491.8 536.5 495.8 533.0 498.2 C529.5 500.7 520.8 506.7 516.4 509.1 C511.9 511.4 503.5 514.8 499.8 515.7 C496.0 516.6 489.9 516.7 488.1 516.0 C486.3 515.4 486.7 511.4 486.5 510.7" stroke="#111" stroke-width="1.2" fill="none"/>
<path d="M539.7 493.3 C536.3 494.8 525.8 499.8 519.7 502.4 C513.6 505.0 506.7 507.4 503.1 509.1 C499.5 510.7 497.5 511.7 498.1 512.4 C498.6 513.1 502.8 514.0 506.4 513.2 C510.0 512.4 515.3 509.7 519.7 507.4 C524.1 505.0 530.8 500.5 533.0 499.1" stroke="#111" stroke-width="0.9" fill="none"/>
<path d="M534.7 495.8 C532.2 497.1 524.1 501.7 519.7 504.1 C515.3 506.4 508.6 509.0 508.1 509.9 C507.5 510.8 512.8 510.6 516.4 509.4 C520.0 508.1 527.5 503.6 529.7 502.4" stroke="#111" stroke-width="0.9" fill="none"/>
<path d="M579.6 398.5 C579.0 402.2 577.9 413.0 576.2 420.9 C574.6 428.8 572.3 438.1 569.6 445.9 C566.8 453.6 563.3 460.8 559.6 467.5 C555.9 474.1 549.2 482.7 547.1 485.8" stroke="#111" stroke-width="1.2" fill="none"/>
<path d="M587.0 396.0 C586.8 398.2 586.0 405.3 585.4 409.3 C584.8 413.3 584.5 415.5 583.5 420.0 C582.5 424.5 581.1 430.6 579.5 436.2 C577.8 441.8 575.6 448.2 573.4 453.8 C571.1 459.4 568.8 465.0 565.9 470.0 C563.1 475.0 559.9 479.5 556.5 483.5 C553.1 487.6 549.7 491.2 545.7 494.3 C541.6 497.5 536.4 500.3 532.2 502.4 C527.9 504.6 522.0 506.4 520.0 507.2" stroke="#111" stroke-width="1.2" fill="none"/>
<path d="M400.0 506.6 C403.0 506.5 412.7 505.1 418.3 506.1 C423.8 507.0 428.0 510.9 433.3 512.4 C438.5 513.8 443.8 514.7 449.9 514.9 C456.0 515.0 463.7 513.8 469.8 513.2 C475.9 512.6 483.7 511.4 486.5 511.0" stroke="#111" stroke-width="1.2" fill="none"/>
<path d="M582.1 264.6 A13.2 8.3 68.0 1 1 572.3 240.2 A13.2 8.3 68.0 1 1 582.1 264.6 Z" stroke="#111" stroke-width="1.2" fill="none"/>
<path d="M592.0 300.7 A14.0 8.2 76.0 1 1 585.2 273.5 A14.0 8.2 76.0 1 1 592.0 300.7 Z" stroke="#111" stroke-width="1.2" fill="none"/>
<path d="M598.0 338.8 A14.3 7.8 84.0 1 1 595.0 310.4 A14.3 7.8 84.0 1 1 598.0 338.8 Z" stroke="#111" stroke-width="1.2" fill="none"/>
<path d="M597.8 377.2 A14.3 8.2 92.0 1 1 598.8 348.6 A14.3 8.2 92.0 1 1 597.8 377.2 Z" stroke="#111" stroke-width="1.2" fill="none"/>
<path d="M591.2 413.8 A14.0 7.5 105.0 1 1 598.4 386.8 A14.0 7.5 105.0 1 1 591.2 413.8 Z" stroke="#111" stroke-width="1.2" fill="none"/>
<path d="M581.9 445.4 A14.5 6.3 118.0 1 1 595.5 419.8 A14.5 6.3 118.0 1 1 581.9 445.4 Z" stroke="#111" stroke-width="1.2" fill="none"/>
<path d="M568.4 472.7 A14.5 4.8 127.0 1 1 585.8 449.5 A14.5 4.8 127.0 1 1 568.4 472.7 Z" stroke="#111" stroke-width="1.2" fill="none"/>
<path d="M549.6 494.2 A13.0 2.8 140.0 1 1 569.6 477.4 A13.0 2.8 140.0 1 1 549.6 494.2 Z" stroke="#111" stroke-width="1.2" fill="none"/>
<path d="M529.9 506.6 A10.8 1.5 155.0 1 1 549.5 497.4 A10.8 1.5 155.0 1 1 529.9 506.6 Z" stroke="#111" stroke-width="1.2" fill="none"/>
<path d="M571.4 240.9 A12.4 7.4 68.0 0 1 580.6 263.9" stroke="#111" stroke-width="0.8" fill="none"/>
<path d="M584.2 274.3 A13.2 7.4 76.0 0 1 590.6 299.9" stroke="#111" stroke-width="0.8" fill="none"/>
<path d="M593.9 311.2 A13.5 7.0 84.0 0 1 596.7 338.0" stroke="#111" stroke-width="0.8" fill="none"/>
<path d="M597.6 349.5 A13.5 7.4 92.0 0 1 596.6 376.5" stroke="#111" stroke-width="0.8" fill="none"/>
<path d="M596.5 351.3 L597.1 375.7" stroke="#111" stroke-width="0.9" fill="none"/>
<path d="M597.9 350.7 L598.4 376.3" stroke="#111" stroke-width="0.7" fill="none"/>
<path d="M583.1 252.0 C583.5 253.0 584.1 254.5 585.5 258.0 C587.0 261.4 589.6 267.1 591.6 272.6 C593.6 278.0 596.0 284.7 597.7 290.8 C599.4 296.9 600.9 304.2 601.9 309.0 C603.0 313.9 603.3 317.4 603.8 320.0 C604.3 322.6 604.5 321.2 605.0 324.6 C605.5 328.0 606.4 334.7 606.8 340.4 C607.2 346.1 607.4 352.6 607.4 358.6 C607.4 364.7 607.2 371.2 606.8 376.9 C606.4 382.5 605.5 388.8 605.0 392.7 C604.5 396.5 604.0 398.4 603.8 400.0 C603.6 401.6 604.5 399.8 603.9 402.2 C603.3 404.5 601.6 409.1 600.2 414.3 C598.9 419.5 597.6 427.6 595.7 433.5 C593.8 439.4 591.6 444.1 588.9 449.7 C586.2 455.4 582.4 462.8 579.5 467.3 C576.5 471.8 574.5 473.2 571.4 476.8 C568.2 480.4 564.1 485.5 560.5 488.9 C556.9 492.3 553.8 494.4 549.7 497.0 C545.7 499.6 541.2 502.0 536.2 504.5 C531.3 506.9 526.0 509.9 520.0 511.9 C514.0 513.9 505.5 516.0 500.0 516.5 C494.5 517.0 489.2 515.2 487.0 515.0" stroke="#111" stroke-width="1.2" fill="none"/>
<path d="M568.5 252.0 C569.1 254.4 571.2 262.8 572.2 266.5 C573.1 270.1 573.9 272.6 574.2 273.8" stroke="#111" stroke-width="1.2" fill="none"/>
<path d="M527.2 238.3 C528.4 239.7 532.8 244.7 534.6 247.0 C536.5 249.3 535.9 247.6 538.4 252.0 C540.9 256.3 546.8 267.3 549.6 273.0 C552.5 278.7 554.5 284.1 555.4 286.3" stroke="#111" stroke-width="1.2" fill="none"/>
<path d="M525.9 239.5 C527.1 240.9 531.1 245.5 532.8 247.6 C534.4 249.7 532.7 247.7 535.9 252.0 C539.0 256.2 548.0 267.3 551.6 273.0 C555.2 278.7 556.5 284.1 557.4 286.3" stroke="#111" stroke-width="0.8" fill="none"/>
<path d="M552.6 243.3 C553.4 244.7 555.0 247.0 557.0 252.0 C559.0 256.9 561.9 265.9 564.6 273.0 C567.2 280.1 571.5 291.0 572.9 294.6" stroke="#111" stroke-width="1.2" fill="none"/>
<path d="M589.2 264.0 C590.4 266.3 594.0 272.4 596.5 277.4 C598.9 282.5 601.5 288.6 603.8 294.4 C606.0 300.3 608.5 308.4 609.8 312.7 C611.2 316.9 611.2 318.4 611.7 320.0 C612.2 321.6 612.5 319.4 612.9 322.2 C613.3 325.0 613.9 331.9 614.1 336.7 C614.3 341.6 614.4 346.3 614.1 351.3 C613.8 356.4 613.2 362.1 612.3 367.1 C611.4 372.2 609.6 378.1 608.6 381.7 C607.6 385.4 606.6 387.8 606.2 389.0" stroke="#111" stroke-width="1.2" fill="none"/>
<path d="M582.5 248.2 C583.8 248.8 587.9 250.3 590.4 251.9 C592.9 253.5 595.3 255.6 597.7 258.0 C600.1 260.3 602.8 262.8 605.0 265.9 C607.2 268.9 609.0 272.5 611.1 276.2 C613.1 279.9 615.3 284.1 617.1 288.4 C619.0 292.6 620.6 297.3 622.0 301.7 C623.4 306.2 624.8 311.7 625.7 315.1 C626.5 318.5 626.5 318.6 626.9 322.2 C627.2 325.8 627.7 331.9 627.8 336.7 C627.9 341.6 627.8 346.7 627.5 351.3 C627.1 356.0 626.6 360.3 625.7 364.7 C624.7 369.2 623.4 374.0 622.0 378.1 C620.6 382.1 619.0 386.0 617.1 389.0 C615.3 392.1 612.8 394.5 611.1 396.3 C609.3 398.1 606.8 399.8 606.8 400.0 C606.8 400.1 611.7 396.8 611.2 397.3 C610.7 397.8 605.1 401.9 603.9 402.8" stroke="#111" stroke-width="1.2" fill="none"/>
<path d="M387.9 220.7 C389.9 221.8 395.5 224.1 400.0 227.3 C404.5 230.5 410.0 234.8 415.0 240.0 C420.0 245.2 426.0 253.2 430.0 258.8 C434.0 264.2 436.0 267.6 439.0 273.0 C442.0 278.4 446.7 288.2 448.2 291.3" stroke="#111" stroke-width="1.2" fill="none"/>
<path d="M391.2 209.0 C392.7 209.7 396.2 210.7 400.0 213.2 C403.8 215.6 409.2 219.7 413.8 223.8 C418.3 227.8 422.3 231.5 427.5 237.5 C432.7 243.5 441.3 254.1 445.0 260.0 C448.7 265.9 447.8 268.3 449.9 273.0 C451.9 277.7 456.1 285.5 457.4 288.0" stroke="#111" stroke-width="1.2" fill="none"/>
<path d="M400.0 189.0 L400.3 185.5 L401.7 182.4" stroke="#111" stroke-width="1.2" fill="none"/>
<path d="M444.8 557.7 A13.0 21.6 -8.0 1 1 419.1 561.3 A13.0 21.6 -8.0 1 1 444.8 557.7 Z" stroke="#111" stroke-width="1.1" fill="#fff"/>
<path d="M439.8 558.0 A7.5 15.3 -8.0 1 1 425.0 560.0 A7.5 15.3 -8.0 1 1 439.8 558.0 Z" stroke="#111" stroke-width="1.1" fill="#fff"/>
<path d="M463.0 558.8 C461.8 558.7 453.3 558.6 450.9 558.6 C448.5 558.6 440.4 558.5 438.7 558.6 C437.1 558.7 435.3 559.0 434.6 559.4 C433.8 559.8 431.6 561.7 431.2 562.4 C430.8 563.0 430.4 565.0 430.4 566.1 C430.4 567.3 430.9 572.5 431.2 573.7 C431.5 574.8 433.0 577.1 433.7 577.9 C434.4 578.6 437.0 580.4 437.9 580.8 C438.8 581.1 442.1 581.3 442.9 581.2 C443.8 581.1 444.6 580.7 446.3 579.9 C448.0 579.2 458.3 574.3 459.7 573.7" stroke="#111" stroke-width="1.1" fill="#fff"/>
<path d="M458.0 563.4 C456.9 563.5 443.2 563.2 442.1 563.6 C440.9 564.1 441.0 569.6 440.8 570.3 C440.7 571.1 439.9 574.6 440.0 574.9 C440.1 575.3 441.7 576.2 442.9 575.8 C444.2 575.3 457.4 569.3 458.4 568.8" stroke="#111" stroke-width="1.0" fill="none"/>
<path d="M524.5 550.0 C523.3 549.9 514.8 549.8 512.4 549.8 C510.0 549.8 501.9 549.7 500.2 549.8 C498.6 549.9 496.8 550.2 496.1 550.6 C495.3 551.0 493.1 552.9 492.7 553.6 C492.3 554.2 491.9 556.2 491.9 557.3 C491.9 558.5 492.4 563.7 492.7 564.9 C493.0 566.0 494.5 568.3 495.2 569.1 C495.9 569.8 498.5 571.6 499.4 572.0 C500.3 572.3 503.6 572.5 504.4 572.4 C505.3 572.3 506.1 571.9 507.8 571.1 C509.5 570.4 519.8 565.5 521.2 564.9" stroke="#111" stroke-width="1.1" fill="#fff"/>
<path d="M519.5 554.6 C518.4 554.7 504.7 554.4 503.6 554.8 C502.4 555.3 502.5 560.8 502.3 561.5 C502.2 562.3 501.4 565.8 501.5 566.1 C501.6 566.5 503.2 567.4 504.4 567.0 C505.7 566.5 518.9 560.5 519.9 560.0" stroke="#111" stroke-width="1.0" fill="none"/>
<path d="M586.0 541.3 C584.8 541.2 576.3 541.1 573.9 541.1 C571.5 541.1 563.4 541.0 561.7 541.1 C560.1 541.2 558.3 541.5 557.6 541.9 C556.8 542.3 554.6 544.2 554.2 544.9 C553.8 545.5 553.4 547.5 553.4 548.6 C553.4 549.8 553.9 555.0 554.2 556.2 C554.5 557.3 556.0 559.6 556.7 560.4 C557.4 561.1 560.0 562.9 560.9 563.3 C561.8 563.6 565.1 563.8 565.9 563.7 C566.8 563.6 567.6 563.2 569.3 562.4 C571.0 561.7 581.3 556.8 582.7 556.2" stroke="#111" stroke-width="1.1" fill="#fff"/>
<path d="M581.0 545.9 C579.9 546.0 566.2 545.7 565.1 546.1 C563.9 546.6 564.0 552.1 563.8 552.8 C563.7 553.6 562.9 557.1 563.0 557.4 C563.1 557.8 564.7 558.7 565.9 558.3 C567.2 557.8 580.4 551.8 581.4 551.3" stroke="#111" stroke-width="1.0" fill="none"/>
<path d="M647.7 532.5 C646.5 532.4 638.0 532.3 635.6 532.3 C633.2 532.3 625.1 532.2 623.4 532.3 C621.8 532.4 620.0 532.7 619.3 533.1 C618.5 533.5 616.3 535.4 615.9 536.1 C615.5 536.7 615.1 538.7 615.1 539.8 C615.1 541.0 615.6 546.2 615.9 547.4 C616.2 548.5 617.7 550.8 618.4 551.6 C619.1 552.3 621.7 554.1 622.6 554.5 C623.5 554.8 626.8 555.0 627.6 554.9 C628.5 554.8 629.3 554.4 631.0 553.6 C632.7 552.9 643.0 548.0 644.4 547.4" stroke="#111" stroke-width="1.1" fill="#fff"/>
<path d="M642.7 537.1 C641.6 537.2 627.9 536.9 626.8 537.3 C625.6 537.8 625.7 543.3 625.5 544.0 C625.4 544.8 624.6 548.3 624.7 548.6 C624.8 549.0 626.4 549.9 627.6 549.5 C628.9 549.0 642.1 543.0 643.1 542.5" stroke="#111" stroke-width="1.0" fill="none"/>
<path d="M709.2 524.3 C708.0 524.2 699.5 524.1 697.1 524.1 C694.7 524.1 686.6 524.0 684.9 524.1 C683.3 524.2 681.5 524.5 680.8 524.9 C680.0 525.3 677.8 527.2 677.4 527.9 C677.0 528.5 676.6 530.5 676.6 531.6 C676.6 532.8 677.1 538.0 677.4 539.2 C677.7 540.3 679.2 542.6 679.9 543.4 C680.6 544.1 683.2 545.9 684.1 546.3 C685.0 546.6 688.3 546.8 689.1 546.7 C690.0 546.6 690.8 546.2 692.5 545.4 C694.2 544.7 704.5 539.8 705.9 539.2" stroke="#111" stroke-width="1.1" fill="#fff"/>
<path d="M704.2 528.9 C703.1 529.0 689.4 528.7 688.3 529.1 C687.1 529.6 687.2 535.1 687.0 535.8 C686.9 536.6 686.1 540.1 686.2 540.4 C686.3 540.8 687.9 541.7 689.1 541.3 C690.4 540.8 703.6 534.8 704.6 534.3" stroke="#111" stroke-width="1.0" fill="none"/>
<path d="M770.3 515.2 C769.1 515.1 760.6 515.0 758.2 515.0 C755.8 515.0 747.7 514.9 746.0 515.0 C744.4 515.1 742.6 515.4 741.9 515.8 C741.1 516.2 738.9 518.1 738.5 518.8 C738.1 519.4 737.7 521.4 737.7 522.5 C737.7 523.7 738.2 528.9 738.5 530.1 C738.8 531.2 740.3 533.5 741.0 534.3 C741.7 535.0 744.3 536.8 745.2 537.2 C746.1 537.5 749.4 537.7 750.2 537.6 C751.1 537.5 751.9 537.1 753.6 536.3 C755.3 535.6 765.6 530.7 767.0 530.1" stroke="#111" stroke-width="1.1" fill="#fff"/>
<path d="M765.3 519.8 C764.2 519.9 750.5 519.6 749.4 520.0 C748.2 520.5 748.3 526.0 748.1 526.7 C748.0 527.5 747.2 531.0 747.3 531.3 C747.4 531.7 749.0 532.6 750.2 532.2 C751.5 531.7 764.7 525.7 765.7 525.2" stroke="#111" stroke-width="1.0" fill="none"/>
<path d="M474.8 567.8 C472.4 567.8 468.0 564.3 469.7 563.2 C471.5 562.1 489.5 557.6 492.3 556.9 C495.2 556.2 497.2 555.9 498.2 556.1 C499.2 556.2 501.9 558.0 502.4 558.6 C502.9 559.2 503.5 561.3 503.5 561.9 C503.4 562.6 502.4 564.4 502.0 564.9 C501.6 565.3 499.9 566.3 499.5 566.3 C499.0 566.3 498.1 564.8 497.8 564.4 C497.5 564.1 496.7 562.7 496.3 562.6 C495.8 562.5 495.3 562.7 493.2 563.2 C491.0 563.7 477.1 567.8 474.8 567.8Z" stroke="#111" stroke-width="1.0" fill="#fff"/>
<path d="M536.3 559.0 C533.9 559.0 529.5 555.5 531.2 554.4 C533.0 553.3 551.0 548.8 553.8 548.1 C556.7 547.4 558.7 547.1 559.7 547.3 C560.7 547.4 563.4 549.2 563.9 549.8 C564.4 550.4 565.0 552.5 565.0 553.1 C564.9 553.8 563.9 555.6 563.5 556.1 C563.1 556.5 561.4 557.5 561.0 557.5 C560.5 557.5 559.6 556.0 559.3 555.6 C559.0 555.3 558.2 553.9 557.8 553.8 C557.3 553.7 556.8 553.9 554.7 554.4 C552.5 554.9 538.6 559.0 536.3 559.0Z" stroke="#111" stroke-width="1.0" fill="#fff"/>
<path d="M597.8 550.3 C595.4 550.3 591.0 546.8 592.7 545.7 C594.5 544.6 612.5 540.1 615.3 539.4 C618.2 538.7 620.2 538.4 621.2 538.6 C622.2 538.7 624.9 540.5 625.4 541.1 C625.9 541.7 626.5 543.8 626.5 544.4 C626.4 545.1 625.4 546.9 625.0 547.4 C624.6 547.8 622.9 548.8 622.5 548.8 C622.0 548.8 621.1 547.3 620.8 546.9 C620.5 546.6 619.7 545.2 619.3 545.1 C618.8 545.0 618.3 545.2 616.2 545.7 C614.0 546.2 600.1 550.3 597.8 550.3Z" stroke="#111" stroke-width="1.0" fill="#fff"/>
<path d="M659.5 541.5 C657.1 541.5 652.7 538.0 654.4 536.9 C656.2 535.8 674.2 531.3 677.0 530.6 C679.9 529.9 681.9 529.6 682.9 529.8 C683.9 529.9 686.6 531.7 687.1 532.3 C687.6 532.9 688.2 535.0 688.2 535.6 C688.1 536.3 687.1 538.1 686.7 538.6 C686.3 539.0 684.6 540.0 684.2 540.0 C683.7 540.0 682.8 538.5 682.5 538.1 C682.2 537.8 681.4 536.4 681.0 536.3 C680.5 536.2 680.0 536.4 677.9 536.9 C675.7 537.4 661.8 541.5 659.5 541.5Z" stroke="#111" stroke-width="1.0" fill="#fff"/>
<path d="M721.0 533.3 C718.6 533.3 714.2 529.8 715.9 528.7 C717.7 527.6 735.7 523.1 738.5 522.4 C741.4 521.7 743.4 521.4 744.4 521.6 C745.4 521.7 748.1 523.5 748.6 524.1 C749.1 524.7 749.7 526.8 749.7 527.4 C749.6 528.1 748.6 529.9 748.2 530.4 C747.8 530.8 746.1 531.8 745.7 531.8 C745.2 531.8 744.3 530.3 744.0 529.9 C743.7 529.6 742.9 528.2 742.5 528.1 C742.0 528.0 741.5 528.2 739.4 528.7 C737.2 529.2 723.3 533.3 721.0 533.3Z" stroke="#111" stroke-width="1.0" fill="#fff"/>
<path d="M777.1 519.7 L808.1 513.7" stroke="#111" stroke-width="1.0" fill="none"/>
<path d="M781.1 524.5 L808.1 518.2" stroke="#111" stroke-width="1.0" fill="none"/>
<path d="M474.9 567.6 A3.4 6.3 -15.0 1 1 468.4 569.3 A3.4 6.3 -15.0 1 1 474.9 567.6 Z" stroke="#111" stroke-width="1.0" fill="#fff"/>
<path d="M467.1 568.0 A4.2 8.4 -15.0 1 1 459.0 570.1 A4.2 8.4 -15.0 1 1 467.1 568.0 Z" stroke="#111" stroke-width="1.1" fill="#fff"/>
<path d="M471.9 565.5 A4.0 8.0 -15.0 1 1 464.2 567.6 A4.0 8.0 -15.0 1 1 471.9 565.5 Z" stroke="#111" stroke-width="1.1" fill="#fff"/>
<path d="M536.4 558.8 A3.4 6.3 -15.0 1 1 529.9 560.5 A3.4 6.3 -15.0 1 1 536.4 558.8 Z" stroke="#111" stroke-width="1.0" fill="#fff"/>
<path d="M528.6 559.2 A4.2 8.4 -15.0 1 1 520.5 561.3 A4.2 8.4 -15.0 1 1 528.6 559.2 Z" stroke="#111" stroke-width="1.1" fill="#fff"/>
<path d="M533.4 556.7 A4.0 8.0 -15.0 1 1 525.7 558.8 A4.0 8.0 -15.0 1 1 533.4 556.7 Z" stroke="#111" stroke-width="1.1" fill="#fff"/>
<path d="M597.9 550.1 A3.4 6.3 -15.0 1 1 591.4 551.8 A3.4 6.3 -15.0 1 1 597.9 550.1 Z" stroke="#111" stroke-width="1.0" fill="#fff"/>
<path d="M590.1 550.5 A4.2 8.4 -15.0 1 1 582.0 552.6 A4.2 8.4 -15.0 1 1 590.1 550.5 Z" stroke="#111" stroke-width="1.1" fill="#fff"/>
<path d="M594.9 548.0 A4.0 8.0 -15.0 1 1 587.2 550.1 A4.0 8.0 -15.0 1 1 594.9 548.0 Z" stroke="#111" stroke-width="1.1" fill="#fff"/>
<path d="M659.6 541.3 A3.4 6.3 -15.0 1 1 653.1 543.0 A3.4 6.3 -15.0 1 1 659.6 541.3 Z" stroke="#111" stroke-width="1.0" fill="#fff"/>
<path d="M651.8 541.7 A4.2 8.4 -15.0 1 1 643.7 543.8 A4.2 8.4 -15.0 1 1 651.8 541.7 Z" stroke="#111" stroke-width="1.1" fill="#fff"/>
<path d="M656.6 539.2 A4.0 8.0 -15.0 1 1 648.9 541.3 A4.0 8.0 -15.0 1 1 656.6 539.2 Z" stroke="#111" stroke-width="1.1" fill="#fff"/>
<path d="M721.1 533.1 A3.4 6.3 -15.0 1 1 714.6 534.8 A3.4 6.3 -15.0 1 1 721.1 533.1 Z" stroke="#111" stroke-width="1.0" fill="#fff"/>
<path d="M713.3 533.5 A4.2 8.4 -15.0 1 1 705.2 535.6 A4.2 8.4 -15.0 1 1 713.3 533.5 Z" stroke="#111" stroke-width="1.1" fill="#fff"/>
<path d="M718.1 531.0 A4.0 8.0 -15.0 1 1 710.4 533.1 A4.0 8.0 -15.0 1 1 718.1 531.0 Z" stroke="#111" stroke-width="1.1" fill="#fff"/>
<path d="M782.2 524.0 A3.4 6.3 -15.0 1 1 775.7 525.7 A3.4 6.3 -15.0 1 1 782.2 524.0 Z" stroke="#111" stroke-width="1.0" fill="#fff"/>
<path d="M774.4 524.4 A4.2 8.4 -15.0 1 1 766.3 526.5 A4.2 8.4 -15.0 1 1 774.4 524.4 Z" stroke="#111" stroke-width="1.1" fill="#fff"/>
<path d="M779.2 521.9 A4.0 8.0 -15.0 1 1 771.5 524.0 A4.0 8.0 -15.0 1 1 779.2 521.9 Z" stroke="#111" stroke-width="1.1" fill="#fff"/>
<path d="M408.3 507.5 C408.3 510.1 407.3 518.7 408.0 523.3 C408.7 527.8 410.5 531.8 412.5 534.9 C414.5 537.9 417.6 540.4 420.0 541.5 C422.3 542.7 425.5 541.8 426.6 541.9" stroke="#111" stroke-width="1.1" fill="none"/>
<path d="M421.6 507.5 C423.0 508.1 427.8 509.5 429.9 511.6 C432.0 513.7 433.3 516.6 434.1 519.9 C434.9 523.3 435.3 528.4 434.9 531.6 C434.5 534.7 432.1 537.8 431.6 539.0" stroke="#111" stroke-width="1.1" fill="none"/>
<path d="M415.8 508.3 C415.7 510.2 414.7 516.3 415.0 519.9 C415.2 523.5 416.1 527.1 417.5 529.9 C418.8 532.7 421.6 535.6 423.3 536.6 C424.9 537.5 426.7 535.9 427.4 535.7" stroke="#111" stroke-width="1.1" fill="none"/>
<path d="M425.8 514.9 C426.3 516.3 428.7 520.2 429.1 523.3 C429.5 526.3 429.0 531.1 428.3 533.2 C427.6 535.3 425.5 535.3 424.9 535.7" stroke="#111" stroke-width="1.1" fill="none"/>
<path d="M823.1 505.7 C828.0 504.5 858.0 496.6 863.0 494.9 C868.1 493.3 865.2 492.3 866.4 491.6 C867.5 490.9 870.3 490.0 873.0 489.1 C875.7 488.2 886.7 484.3 889.6 483.6 C892.5 483.0 896.0 482.8 897.9 483.3 C899.9 483.8 904.7 486.7 906.3 488.3 C907.8 489.8 910.5 494.5 911.2 496.6 C912.0 498.7 912.9 504.4 912.9 506.6 C912.9 508.7 912.0 513.2 911.2 514.9 C910.5 516.5 907.8 519.7 906.3 520.7 C904.7 521.7 907.6 523.2 897.9 523.5 C888.2 523.9 833.0 522.9 823.1 523.5 C813.2 524.2 815.1 528.1 813.2 529.0 C811.2 530.0 808.2 531.3 806.5 531.5 C804.8 531.7 799.7 531.5 798.2 530.7 C796.6 529.9 794.0 526.3 793.2 524.9 C792.4 523.4 791.7 519.5 791.5 518.2 C791.4 516.9 791.5 514.8 791.9 513.6 C792.3 512.3 793.5 508.8 794.9 507.4 C796.2 506.0 801.4 502.5 803.2 501.6 C804.9 500.7 808.4 499.9 809.8 499.9 C811.3 499.9 814.3 501.0 815.6 501.6 C817.0 502.2 820.6 504.8 821.5 505.2 C822.3 505.7 818.3 506.9 823.1 505.7Z" stroke="#111" stroke-width="1.1" fill="none"/>
<path d="M886.3 491.6 C887.3 491.8 893.0 492.3 894.6 493.3 C896.3 494.2 899.5 498.2 900.4 499.9 C901.4 501.7 902.5 506.5 902.6 508.2 C902.7 510.0 902.0 513.6 901.3 514.9 C900.5 516.1 897.6 518.5 896.3 519.0 C894.9 519.6 897.8 519.5 889.6 519.5 C881.5 519.6 833.8 519.5 826.5 519.5" stroke="#111" stroke-width="1.1" fill="none"/>
<path d="M829.8 513.6 L899.6 513.6" stroke="#444" stroke-width="1.1" fill="none"/>
<path d="M813.2 512.4 C818.1 510.9 857.0 499.3 863.0 497.4 C869.0 495.6 871.5 494.4 873.0 494.1 C874.5 493.9 877.6 494.5 878.0 494.9 C878.4 495.4 877.8 497.6 877.2 498.3 C876.5 498.9 876.1 500.0 871.3 501.6 C866.6 503.2 835.1 512.3 829.8 514.1 C824.5 515.8 819.8 518.5 818.1 519.0 C816.5 519.6 813.6 519.8 813.2 519.9" stroke="#111" stroke-width="1.1" fill="none"/>
<path d="M795.7 514.1 C796.2 512.8 796.8 511.4 798.2 510.7 C799.6 510.0 802.1 509.5 804.0 509.9 C805.9 510.3 808.6 511.8 809.8 513.2 C811.1 514.6 811.8 516.6 811.5 518.2 C811.2 519.9 809.8 521.8 808.2 523.2 C806.5 524.6 803.5 526.5 801.5 526.5 C799.6 526.5 797.6 524.6 796.5 523.2 C795.4 521.8 795.0 519.7 794.9 518.2 C794.7 516.7 795.1 515.3 795.7 514.1Z" stroke="#111" stroke-width="1.1" fill="none"/>
<path d="M387.4 376.1 C387.8 375.5 388.9 373.7 389.5 372.7 C390.0 371.7 390.6 370.5 390.8 370.0" stroke="#111" stroke-width="0.9" fill="none"/>
<path d="M315.4 370.0 L315.4 383.5" stroke="#111" stroke-width="1.2" fill="none"/>
<path d="M294.2 371.4 C294.5 372.3 294.5 375.2 296.2 376.8 C297.9 378.3 301.1 379.9 304.3 380.8 C307.5 381.8 313.6 382.2 315.4 382.4" stroke="#111" stroke-width="1.2" fill="none"/>
<path d="M315.4 382.4 C316.7 382.3 321.0 382.1 323.2 381.5 C325.5 380.9 327.7 379.2 328.6 378.8" stroke="#111" stroke-width="1.2" fill="none"/>
<path d="M315.8 374.1 C317.0 373.8 321.0 372.6 323.2 372.7 C325.5 372.8 328.3 374.4 329.3 374.7" stroke="#111" stroke-width="0.9" fill="none"/>
<path d="M311.8 386.9 L311.8 395.7" stroke="#111" stroke-width="1.2" fill="none"/>
<path d="M346.2 390.3 L346.2 395.0" stroke="#111" stroke-width="1.2" fill="none"/>
<path d="M313.8 384.2 C316.0 384.5 323.0 386.0 327.3 386.2 C331.6 386.4 337.4 385.7 339.5 385.5" stroke="#111" stroke-width="1.2" fill="none"/>
<path d="M311.8 386.9 C313.2 387.3 316.8 389.0 320.5 389.6 C324.3 390.2 329.8 390.4 334.1 390.3 C338.3 390.2 344.2 389.1 346.2 388.9" stroke="#111" stroke-width="1.2" fill="none"/>
<path d="M311.8 395.7 C313.2 396.1 316.8 397.7 320.5 398.1 C324.3 398.6 329.8 398.9 334.1 398.4 C338.3 397.9 344.2 395.6 346.2 395.0" stroke="#111" stroke-width="1.2" fill="none"/>
<path d="M311.8 390.9 C310.5 391.2 306.9 391.5 304.3 392.3 C301.7 393.1 296.2 394.5 296.2 395.7 C296.2 396.8 300.3 398.0 304.3 399.1 C308.4 400.1 314.5 401.4 320.5 401.8 C326.6 402.1 335.0 401.6 340.8 401.1 C346.7 400.5 352.2 399.2 355.7 398.4 C359.2 397.6 360.7 396.7 361.8 396.4" stroke="#111" stroke-width="1.2" fill="none"/>
<path d="M321.9 401.8 C323.9 401.7 329.8 401.7 334.1 401.4 C338.3 401.0 345.3 400.0 347.6 399.7" stroke="#111" stroke-width="0.9" fill="none"/>
<path d="M294.2 376.8 C294.1 379.0 293.4 386.0 293.5 390.3 C293.6 394.5 294.6 400.4 294.9 402.4" stroke="#111" stroke-width="1.2" fill="none"/>
<path d="M334.1 407.8 L346.2 405.4" stroke="#111" stroke-width="0.9" fill="none"/>
<path d="M320.5 426.8 L340.8 423.4" stroke="#111" stroke-width="1.2" fill="none"/>
<path d="M280.0 386.9 L290.8 385.5" stroke="#111" stroke-width="1.2" fill="none"/>
<path d="M380.7 395.0 C383.0 394.4 390.2 391.8 394.9 391.6 C399.5 391.4 404.2 392.9 408.4 393.6 C412.6 394.4 418.1 395.9 420.0 396.4" stroke="#111" stroke-width="1.2" fill="none"/>
<path d="M380.7 396.4 C382.6 397.9 388.0 403.8 392.2 405.8 C396.3 407.8 401.8 408.9 405.7 408.5 C409.5 408.2 412.7 405.4 415.1 403.8 C417.5 402.2 419.2 399.8 420.0 399.1" stroke="#111" stroke-width="1.2" fill="none"/>
<path d="M194.7 298.6 C195.3 296.7 196.4 291.3 198.1 287.2 C199.8 283.0 202.2 278.2 204.9 273.6 C207.6 269.1 210.7 264.3 214.3 260.1 C217.9 256.0 222.2 251.8 226.5 248.6 C230.8 245.5 235.7 242.9 240.0 241.2 C244.3 239.5 248.3 238.7 252.2 238.5 C256.0 238.3 259.4 238.9 263.0 239.9 C266.6 240.9 270.2 242.6 273.8 244.6 C277.4 246.6 281.0 249.1 284.6 252.0 C288.2 255.0 292.0 258.6 295.4 262.2 C298.8 265.8 301.7 269.9 304.9 273.6 C308.0 277.4 312.7 282.7 314.3 284.5" stroke="#111" stroke-width="1.2" fill="none"/>
<path d="M198.8 298.6 C199.5 296.5 200.9 290.2 202.8 285.8 C204.8 281.4 207.5 276.6 210.3 272.3 C213.1 268.0 216.1 263.7 219.7 260.1 C223.3 256.5 227.8 253.0 231.9 250.7 C235.9 248.3 240.2 247.0 244.1 245.9 C247.9 244.9 251.3 244.5 254.9 244.6 C258.5 244.7 262.1 245.5 265.7 246.6 C269.3 247.7 272.9 249.3 276.5 251.4 C280.1 253.4 283.9 256.0 287.3 258.8 C290.7 261.6 293.6 264.9 296.8 268.2 C299.9 271.6 304.6 277.3 306.2 279.1" stroke="#111" stroke-width="1.2" fill="none"/>
<path d="M207.6 297.3 C208.5 294.9 210.7 287.7 213.0 283.1 C215.2 278.5 218.2 273.6 221.1 269.6 C224.0 265.5 227.4 261.8 230.5 258.8 C233.7 255.7 237.1 253.5 240.0 251.4 C242.9 249.2 246.8 246.8 248.1 245.9" stroke="#111" stroke-width="1.2" fill="none"/>
<path d="M213.6 296.6 C214.4 294.6 216.2 288.7 218.4 284.5 C220.5 280.2 223.6 274.9 226.5 270.9 C229.4 267.0 232.6 263.6 235.9 260.8 C239.3 258.0 243.2 255.6 246.8 254.1 C250.4 252.5 254.0 251.8 257.6 251.4 C261.2 250.9 265.0 250.9 268.4 251.4 C271.8 251.8 275.4 253.3 277.8 254.1 C280.3 254.8 282.3 255.7 283.2 256.1" stroke="#111" stroke-width="1.2" fill="none"/>
<path d="M215.0 296.6 C215.8 294.7 217.6 289.2 219.7 285.1 C221.9 281.1 225.0 276.1 227.8 272.3 C230.7 268.5 233.9 265.2 236.6 262.6 C239.3 260.0 242.8 257.7 244.1 256.8" stroke="#111" stroke-width="0.8" fill="none"/>
<path d="M281.9 254.7 C280.3 257.7 275.1 266.7 272.4 272.3 C269.7 277.9 267.5 283.8 265.7 288.5 C263.9 293.2 262.3 298.6 261.6 300.7" stroke="#111" stroke-width="1.2" fill="none"/>
<path d="M306.2 279.1 L304.2 289.9" stroke="#111" stroke-width="1.2" fill="none"/>
<path d="M384.2 400.0 L391.7 406.1 L406.4 423.6" stroke="#111" stroke-width="1.2" fill="none"/>
<path d="M391.7 406.1 C393.3 406.5 398.2 408.3 401.2 408.5 C404.2 408.7 406.3 408.0 409.7 407.6 C413.1 407.1 419.6 406.0 421.5 405.7" stroke="#111" stroke-width="1.2" fill="none"/>
<path d="M421.5 400.0 L422.0 418.0 L406.4 423.6" stroke="#111" stroke-width="1.2" fill="none"/>
<path d="M407.4 424.1 L404.5 436.4" stroke="#111" stroke-width="1.2" fill="none"/>
<path d="M410.2 423.6 L407.4 437.4" stroke="#111" stroke-width="1.2" fill="none"/>
<path d="M404.5 436.4 L399.8 436.4 L389.4 461.9 L392.2 462.4 L393.2 461.0 L395.1 462.9" stroke="#111" stroke-width="1.2" fill="none"/>
<path d="M407.4 437.4 C407.2 437.5 405.9 438.5 405.9 438.8 C406.0 439.0 406.6 439.4 407.8 439.2 C409.1 439.1 413.8 437.7 415.4 437.6 C417.0 437.6 419.1 438.2 420.1 438.8 C421.1 439.3 422.5 440.7 423.0 441.6 C423.5 442.5 424.0 444.3 423.9 445.4 C423.8 446.5 423.1 448.9 422.5 450.1 C421.9 451.4 420.4 453.6 419.2 454.8 C418.0 456.1 415.3 458.5 413.5 459.6 C411.7 460.6 408.0 462.3 405.9 462.9 C403.9 463.5 399.8 464.3 398.4 464.3 C396.9 464.3 395.5 463.1 395.1 462.9" stroke="#111" stroke-width="1.2" fill="none"/>
<path d="M421.1 440.2 C420.7 441.2 420.3 444.4 419.2 446.3 C418.1 448.3 416.3 450.3 414.4 452.0 C412.6 453.7 410.2 455.5 407.8 456.7 C405.5 458.0 402.2 459.0 400.3 459.6 C398.4 460.1 397.5 460.4 396.5 460.0 C395.5 459.7 394.5 458.1 394.1 457.7" stroke="#111" stroke-width="0.9" fill="none"/>
<path d="M392.2 462.4 C391.5 463.7 389.1 467.6 388.0 470.0 C386.8 472.3 387.2 473.8 385.4 476.5 C383.6 479.1 380.2 483.0 377.3 485.9 C374.4 488.9 371.2 491.9 367.8 494.1 C364.5 496.2 360.4 497.8 357.0 498.8 C353.6 499.8 350.7 500.0 347.6 500.1 C344.4 500.2 341.0 499.8 338.1 499.5 C335.2 499.1 331.4 498.3 330.0 498.1" stroke="#111" stroke-width="1.2" fill="none"/>
<path d="M395.1 463.8 C394.3 464.9 391.7 468.3 390.8 470.0 C389.9 471.6 391.0 471.5 389.5 473.8 C387.9 476.1 384.3 480.9 381.4 483.9 C378.4 487.0 375.0 489.8 371.9 492.0 C368.7 494.3 364.0 496.5 362.4 497.4" stroke="#111" stroke-width="1.2" fill="none"/>
<path d="M401.0 366.9 A28.0 32.8 8.0 1 1 345.6 359.1 A28.0 32.8 8.0 1 1 401.0 366.9 Z" stroke="#111" stroke-width="1.2" fill="none"/>
<path d="M368.4 328.4 C367.4 328.2 364.7 327.3 362.7 327.2 C360.7 327.0 358.2 327.1 356.2 327.6 C354.2 328.0 352.4 328.9 350.5 330.0 C348.6 331.1 347.5 331.1 344.9 334.1 C342.2 337.0 336.9 343.0 334.7 347.8 C332.4 352.6 331.3 357.8 331.3 362.8 C331.3 367.8 333.3 373.8 334.7 377.7 C336.0 381.6 337.3 383.8 339.5 386.2 C341.6 388.6 344.4 390.7 347.6 392.3 C350.7 393.9 354.5 395.0 358.4 395.7 C362.2 396.4 368.5 396.2 370.5 396.4" stroke="#111" stroke-width="1.2" fill="none"/>
<path d="M361.1 329.8 C362.4 329.6 365.9 328.9 369.2 328.5 C372.4 328.2 377.3 328.3 380.5 328.0 C383.8 327.6 385.9 327.2 388.6 326.4 C391.4 325.5 394.3 324.0 396.8 322.7 C399.2 321.4 401.4 319.9 403.2 318.6 C405.1 317.4 407.3 315.6 408.1 315.0" stroke="#111" stroke-width="1.2" fill="none"/>
<path d="M383.0 331.6 C384.6 331.4 389.6 331.0 392.7 330.4 C395.8 329.8 398.4 329.1 401.6 328.0 C404.9 326.8 410.4 324.3 412.2 323.5" stroke="#111" stroke-width="1.2" fill="none"/>
<path d="M380.5 327.6 C380.8 326.8 381.4 324.2 382.2 322.7 C383.0 321.2 384.2 319.7 385.4 318.6 C386.6 317.6 388.5 317.2 389.5 316.2 C390.4 315.3 390.3 313.8 391.1 313.0 C391.9 312.2 393.2 311.4 394.3 311.4 C395.4 311.4 396.6 312.2 397.6 313.0 C398.5 313.8 399.5 315.3 400.0 316.2 C400.5 317.2 400.7 318.2 400.8 318.6" stroke="#111" stroke-width="1.0" fill="none"/>
<path d="M386.2 327.2 C386.9 326.6 388.8 324.4 390.3 323.5 C391.8 322.6 394.1 322.0 395.1 321.9 C396.2 321.8 397.0 322.6 396.8 323.1 C396.5 323.6 395.0 324.5 393.5 325.1 C392.0 325.8 388.8 326.8 387.8 327.2" stroke="#111" stroke-width="1.0" fill="none"/>
<path d="M396.8 320.4 A1.8 1.8 0.0 1 1 393.2 320.4 A1.8 1.8 0.0 1 1 396.8 320.4 Z" stroke="#111" stroke-width="0.9" fill="none"/>
</svg>
</body>
</html>
